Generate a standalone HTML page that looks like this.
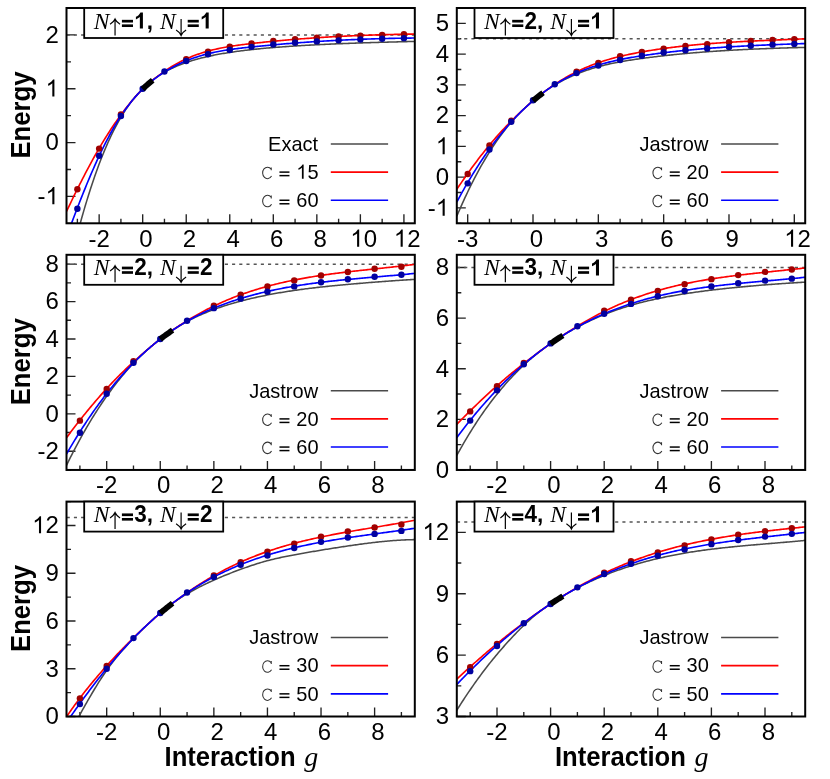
<!DOCTYPE html>
<html><head><meta charset="utf-8"><title>Energy vs interaction</title>
<style>html,body{margin:0;padding:0;background:#fff;}body{width:830px;height:779px;overflow:hidden;font-family:"Liberation Sans",sans-serif;}svg{display:block;will-change:transform;opacity:0.9999;}</style>
</head><body>
<svg width="830" height="779" viewBox="0 0 830 779" font-family="'Liberation Sans', sans-serif">
<rect width="830" height="779" fill="#fff"/>
<g>
<clipPath id="c0"><rect x="66.5" y="8.0" width="348.3" height="215.3"/></clipPath>
<path d="M77.38 223.3v-4.5M99.15 223.3v-9M120.92 223.3v-4.5M142.69 223.3v-9M164.46 223.3v-4.5M186.23 223.3v-9M208 223.3v-4.5M229.77 223.3v-9M251.53 223.3v-4.5M273.3 223.3v-9M295.07 223.3v-4.5M316.84 223.3v-9M338.61 223.3v-4.5M360.38 223.3v-9M382.15 223.3v-4.5M403.92 223.3v-9M66.5 223.3h4.5M66.5 196.39h9M66.5 169.48h4.5M66.5 142.56h9M66.5 115.65h4.5M66.5 88.74h9M66.5 61.83h4.5M66.5 34.91h9M66.5 8h4.5" stroke="#222" stroke-width="1.35" fill="none"/>
<path d="M66.7 34.96H414.8" stroke="#555" stroke-width="1.5" stroke-dasharray="3.1 4.09" fill="none"/>
<polyline clip-path="url(#c0)" points="66.5,278.38 67.84,272.54 69.19,266.8 70.53,261.16 71.88,255.62 73.22,250.18 74.57,244.84 75.91,239.59 77.26,234.44 78.6,229.39 79.95,224.44 81.29,219.58 82.64,214.82 83.98,210.15 85.33,205.59 86.67,201.11 88.02,196.74 89.36,192.45 90.71,188.27 92.05,184.17 93.4,180.16 94.74,176.25 96.09,172.43 97.43,168.71 98.77,165.06 100.12,161.52 101.46,158.05 102.81,154.68 104.15,151.39 105.5,148.19 106.84,145.07 108.19,142.04 109.53,139.09 110.88,136.22 112.22,133.43 113.57,130.72 114.91,128.09 116.26,125.53 117.6,123.06 118.95,120.65 120.29,118.32 121.64,116.05 122.98,113.86 124.33,111.74 125.67,109.68 127.02,107.69 128.36,105.76 129.71,103.89 131.05,102.08 132.39,100.34 133.74,98.65 135.08,97.01 136.43,95.43 137.77,93.91 139.12,92.43 140.46,91 141.81,89.62 143.15,88.29 144.5,87 145.84,85.75 147.19,84.55 148.53,83.38 149.88,82.26 151.22,81.17 152.57,80.12 153.91,79.11 155.26,78.13 156.6,77.18 157.95,76.26 159.29,75.38 160.64,74.52 161.98,73.69 163.32,72.88 164.67,72.11 166.01,71.36 167.36,70.63 168.7,69.92 170.05,69.24 171.39,68.58 172.74,67.94 174.08,67.32 175.43,66.72 176.77,66.14 178.12,65.57 179.46,65.02 180.81,64.49 182.15,63.98 183.5,63.48 184.84,62.99 186.19,62.52 187.53,62.06 188.88,61.61 190.22,61.18 191.57,60.76 192.91,60.35 194.25,59.95 195.6,59.57 196.94,59.19 198.29,58.82 199.63,58.47 200.98,58.12 202.32,57.78 203.67,57.45 205.01,57.13 206.36,56.82 207.7,56.51 209.05,56.22 210.39,55.93 211.74,55.64 213.08,55.37 214.43,55.1 215.77,54.83 217.12,54.58 218.46,54.33 219.81,54.08 221.15,53.84 222.5,53.61 223.84,53.38 225.18,53.16 226.53,52.94 227.87,52.72 229.22,52.52 230.56,52.31 231.91,52.11 233.25,51.92 234.6,51.72 235.94,51.54 237.29,51.35 238.63,51.17 239.98,51 241.32,50.82 242.67,50.65 244.01,50.49 245.36,50.33 246.7,50.17 248.05,50.01 249.39,49.86 250.74,49.71 252.08,49.56 253.43,49.41 254.77,49.27 256.12,49.13 257.46,49 258.8,48.86 260.15,48.73 261.49,48.6 262.84,48.47 264.18,48.35 265.53,48.22 266.87,48.1 268.22,47.99 269.56,47.87 270.91,47.75 272.25,47.64 273.6,47.53 274.94,47.42 276.29,47.31 277.63,47.21 278.98,47.11 280.32,47 281.67,46.9 283.01,46.8 284.36,46.71 285.7,46.61 287.05,46.52 288.39,46.42 289.73,46.33 291.08,46.24 292.42,46.15 293.77,46.07 295.11,45.98 296.46,45.9 297.8,45.81 299.15,45.73 300.49,45.65 301.84,45.57 303.18,45.49 304.53,45.41 305.87,45.34 307.22,45.26 308.56,45.19 309.91,45.11 311.25,45.04 312.6,44.97 313.94,44.9 315.29,44.83 316.63,44.76 317.98,44.69 319.32,44.63 320.66,44.56 322.01,44.5 323.35,44.43 324.7,44.37 326.04,44.31 327.39,44.25 328.73,44.19 330.08,44.13 331.42,44.07 332.77,44.01 334.11,43.95 335.46,43.89 336.8,43.84 338.15,43.78 339.49,43.73 340.84,43.67 342.18,43.62 343.53,43.56 344.87,43.51 346.22,43.46 347.56,43.41 348.91,43.36 350.25,43.31 351.59,43.26 352.94,43.21 354.28,43.16 355.63,43.11 356.97,43.07 358.32,43.02 359.66,42.97 361.01,42.93 362.35,42.88 363.7,42.84 365.04,42.79 366.39,42.75 367.73,42.71 369.08,42.66 370.42,42.62 371.77,42.58 373.11,42.54 374.46,42.5 375.8,42.46 377.15,42.42 378.49,42.38 379.84,42.34 381.18,42.3 382.53,42.26 383.87,42.22 385.21,42.19 386.56,42.15 387.9,42.11 389.25,42.07 390.59,42.04 391.94,42 393.28,41.97 394.63,41.93 395.97,41.9 397.32,41.86 398.66,41.83 400.01,41.79 401.35,41.76 402.7,41.73 404.04,41.7 405.39,41.66 406.73,41.63 408.08,41.6 409.42,41.57 410.77,41.54 412.11,41.5 413.46,41.47 414.8,41.44" fill="none" stroke="#4a4a4a" stroke-width="1.55" stroke-linejoin="round"/>
<polyline clip-path="url(#c0)" points="66.5,211.5 67.84,208.67 69.19,205.84 70.53,203.04 71.88,200.25 73.22,197.48 74.57,194.73 75.91,192 77.26,189.29 78.6,186.59 79.95,183.92 81.29,181.27 82.64,178.64 83.98,176.03 85.33,173.45 86.67,170.88 88.02,168.34 89.36,165.83 90.71,163.33 92.05,160.87 93.4,158.43 94.74,156.01 96.09,153.62 97.43,151.26 98.77,148.93 100.12,146.63 101.46,144.36 102.81,142.11 104.15,139.9 105.5,137.72 106.84,135.57 108.19,133.46 109.53,131.37 110.88,129.32 112.22,127.29 113.57,125.3 114.91,123.34 116.26,121.4 117.6,119.5 118.95,117.62 120.29,115.77 121.64,113.94 122.98,112.14 124.33,110.36 125.67,108.61 127.02,106.88 128.36,105.18 129.71,103.51 131.05,101.86 132.39,100.25 133.74,98.67 135.08,97.12 136.43,95.61 137.77,94.14 139.12,92.7 140.46,91.31 141.81,89.95 143.15,88.63 144.5,87.35 145.84,86.1 147.19,84.89 148.53,83.71 149.88,82.55 151.22,81.42 152.57,80.32 153.91,79.23 155.26,78.17 156.6,77.12 157.95,76.09 159.29,75.08 160.64,74.08 161.98,73.1 163.32,72.14 164.67,71.2 166.01,70.27 167.36,69.37 168.7,68.49 170.05,67.62 171.39,66.78 172.74,65.96 174.08,65.16 175.43,64.39 176.77,63.63 178.12,62.9 179.46,62.19 180.81,61.5 182.15,60.82 183.5,60.17 184.84,59.54 186.19,58.92 187.53,58.32 188.88,57.74 190.22,57.18 191.57,56.63 192.91,56.1 194.25,55.59 195.6,55.09 196.94,54.6 198.29,54.13 199.63,53.68 200.98,53.23 202.32,52.8 203.67,52.39 205.01,51.99 206.36,51.6 207.7,51.22 209.05,50.85 210.39,50.5 211.74,50.15 213.08,49.82 214.43,49.5 215.77,49.19 217.12,48.89 218.46,48.59 219.81,48.31 221.15,48.04 222.5,47.77 223.84,47.52 225.18,47.27 226.53,47.03 227.87,46.79 229.22,46.57 230.56,46.35 231.91,46.13 233.25,45.93 234.6,45.73 235.94,45.53 237.29,45.34 238.63,45.15 239.98,44.97 241.32,44.8 242.67,44.62 244.01,44.45 245.36,44.29 246.7,44.13 248.05,43.97 249.39,43.81 250.74,43.65 252.08,43.5 253.43,43.35 254.77,43.19 256.12,43.04 257.46,42.9 258.8,42.75 260.15,42.6 261.49,42.46 262.84,42.32 264.18,42.18 265.53,42.04 266.87,41.9 268.22,41.76 269.56,41.63 270.91,41.5 272.25,41.36 273.6,41.23 274.94,41.1 276.29,40.98 277.63,40.85 278.98,40.72 280.32,40.6 281.67,40.48 283.01,40.36 284.36,40.24 285.7,40.12 287.05,40 288.39,39.89 289.73,39.77 291.08,39.66 292.42,39.55 293.77,39.44 295.11,39.33 296.46,39.22 297.8,39.11 299.15,39.01 300.49,38.91 301.84,38.8 303.18,38.7 304.53,38.6 305.87,38.5 307.22,38.41 308.56,38.31 309.91,38.21 311.25,38.12 312.6,38.03 313.94,37.94 315.29,37.85 316.63,37.76 317.98,37.67 319.32,37.58 320.66,37.5 322.01,37.41 323.35,37.33 324.7,37.25 326.04,37.17 327.39,37.09 328.73,37.01 330.08,36.93 331.42,36.85 332.77,36.78 334.11,36.7 335.46,36.63 336.8,36.56 338.15,36.49 339.49,36.42 340.84,36.35 342.18,36.28 343.53,36.22 344.87,36.15 346.22,36.09 347.56,36.02 348.91,35.96 350.25,35.9 351.59,35.84 352.94,35.78 354.28,35.72 355.63,35.67 356.97,35.61 358.32,35.55 359.66,35.5 361.01,35.45 362.35,35.39 363.7,35.34 365.04,35.29 366.39,35.24 367.73,35.2 369.08,35.15 370.42,35.1 371.77,35.06 373.11,35.01 374.46,34.97 375.8,34.92 377.15,34.88 378.49,34.84 379.84,34.8 381.18,34.76 382.53,34.72 383.87,34.68 385.21,34.65 386.56,34.61 387.9,34.58 389.25,34.54 390.59,34.51 391.94,34.48 393.28,34.45 394.63,34.41 395.97,34.38 397.32,34.35 398.66,34.33 400.01,34.3 401.35,34.27 402.7,34.25 404.04,34.22 405.39,34.19 406.73,34.17 408.08,34.15 409.42,34.13 410.77,34.1 412.11,34.08 413.46,34.06 414.8,34.04" fill="none" stroke="#ff0000" stroke-width="1.65" stroke-linejoin="round"/>
<polyline clip-path="url(#c0)" points="66.5,236.95 67.84,233.28 69.19,229.63 70.53,226.01 71.88,222.4 73.22,218.82 74.57,215.26 75.91,211.73 77.26,208.22 78.6,204.75 79.95,201.3 81.29,197.88 82.64,194.5 83.98,191.15 85.33,187.83 86.67,184.55 88.02,181.3 89.36,178.09 90.71,174.92 92.05,171.79 93.4,168.71 94.74,165.66 96.09,162.66 97.43,159.7 98.77,156.79 100.12,153.92 101.46,151.11 102.81,148.34 104.15,145.62 105.5,142.95 106.84,140.33 108.19,137.76 109.53,135.24 110.88,132.76 112.22,130.34 113.57,127.98 114.91,125.66 116.26,123.4 117.6,121.18 118.95,119.03 120.29,116.92 121.64,114.87 122.98,112.87 124.33,110.93 125.67,109.03 127.02,107.19 128.36,105.4 129.71,103.65 131.05,101.95 132.39,100.3 133.74,98.7 135.08,97.13 136.43,95.62 137.77,94.14 139.12,92.7 140.46,91.31 141.81,89.95 143.15,88.63 144.5,87.35 145.84,86.1 147.19,84.89 148.53,83.72 149.88,82.57 151.22,81.46 152.57,80.38 153.91,79.33 155.26,78.3 156.6,77.31 157.95,76.34 159.29,75.4 160.64,74.48 161.98,73.58 163.32,72.71 164.67,71.86 166.01,71.03 167.36,70.22 168.7,69.43 170.05,68.66 171.39,67.91 172.74,67.18 174.08,66.46 175.43,65.77 176.77,65.09 178.12,64.43 179.46,63.79 180.81,63.17 182.15,62.56 183.5,61.97 184.84,61.4 186.19,60.84 187.53,60.3 188.88,59.77 190.22,59.26 191.57,58.76 192.91,58.28 194.25,57.81 195.6,57.36 196.94,56.92 198.29,56.49 199.63,56.08 200.98,55.67 202.32,55.29 203.67,54.91 205.01,54.54 206.36,54.19 207.7,53.85 209.05,53.52 210.39,53.2 211.74,52.89 213.08,52.59 214.43,52.3 215.77,52.02 217.12,51.74 218.46,51.48 219.81,51.23 221.15,50.98 222.5,50.74 223.84,50.51 225.18,50.29 226.53,50.07 227.87,49.86 229.22,49.66 230.56,49.46 231.91,49.27 233.25,49.09 234.6,48.91 235.94,48.73 237.29,48.56 238.63,48.39 239.98,48.23 241.32,48.07 242.67,47.92 244.01,47.77 245.36,47.62 246.7,47.47 248.05,47.33 249.39,47.19 250.74,47.04 252.08,46.91 253.43,46.77 254.77,46.63 256.12,46.49 257.46,46.36 258.8,46.23 260.15,46.09 261.49,45.96 262.84,45.83 264.18,45.7 265.53,45.58 266.87,45.45 268.22,45.32 269.56,45.2 270.91,45.08 272.25,44.95 273.6,44.83 274.94,44.71 276.29,44.59 277.63,44.48 278.98,44.36 280.32,44.24 281.67,44.13 283.01,44.02 284.36,43.9 285.7,43.79 287.05,43.68 288.39,43.57 289.73,43.47 291.08,43.36 292.42,43.26 293.77,43.15 295.11,43.05 296.46,42.95 297.8,42.84 299.15,42.74 300.49,42.65 301.84,42.55 303.18,42.45 304.53,42.36 305.87,42.26 307.22,42.17 308.56,42.08 309.91,41.98 311.25,41.89 312.6,41.8 313.94,41.72 315.29,41.63 316.63,41.54 317.98,41.46 319.32,41.38 320.66,41.29 322.01,41.21 323.35,41.13 324.7,41.05 326.04,40.97 327.39,40.89 328.73,40.82 330.08,40.74 331.42,40.67 332.77,40.6 334.11,40.52 335.46,40.45 336.8,40.38 338.15,40.31 339.49,40.24 340.84,40.18 342.18,40.11 343.53,40.05 344.87,39.98 346.22,39.92 347.56,39.86 348.91,39.8 350.25,39.74 351.59,39.68 352.94,39.62 354.28,39.56 355.63,39.51 356.97,39.45 358.32,39.4 359.66,39.35 361.01,39.29 362.35,39.24 363.7,39.19 365.04,39.14 366.39,39.1 367.73,39.05 369.08,39 370.42,38.96 371.77,38.92 373.11,38.87 374.46,38.83 375.8,38.79 377.15,38.75 378.49,38.71 379.84,38.67 381.18,38.64 382.53,38.6 383.87,38.56 385.21,38.53 386.56,38.5 387.9,38.47 389.25,38.43 390.59,38.4 391.94,38.37 393.28,38.35 394.63,38.32 395.97,38.29 397.32,38.27 398.66,38.24 400.01,38.22 401.35,38.2 402.7,38.17 404.04,38.15 405.39,38.13 406.73,38.11 408.08,38.1 409.42,38.08 410.77,38.06 412.11,38.05 413.46,38.03 414.8,38.02" fill="none" stroke="#0000ff" stroke-width="1.65" stroke-linejoin="round"/>
<g fill="#a00000"><circle cx="77.38" cy="189.18" r="3.2"/><circle cx="99.15" cy="148.61" r="3.2"/><circle cx="120.92" cy="114.34" r="3.2"/><circle cx="186.23" cy="59.17" r="3.2"/><circle cx="208" cy="51.6" r="3.2"/><circle cx="229.77" cy="46.62" r="3.2"/><circle cx="251.53" cy="43.43" r="3.2"/><circle cx="273.3" cy="41.04" r="3.2"/><circle cx="295.07" cy="39.2" r="3.2"/><circle cx="316.84" cy="37.7" r="3.2"/><circle cx="338.61" cy="36.49" r="3.2"/><circle cx="360.38" cy="35.58" r="3.2"/><circle cx="382.15" cy="34.84" r="3.2"/><circle cx="403.92" cy="34.22" r="3.2"/></g>
<g fill="#0000a0"><circle cx="77.38" cy="208.77" r="3.2"/><circle cx="99.15" cy="155.82" r="3.2"/><circle cx="120.92" cy="116.01" r="3.2"/><circle cx="142.69" cy="88.74" r="3.2"/><circle cx="164.46" cy="71.53" r="3.2"/><circle cx="186.23" cy="61.05" r="3.2"/><circle cx="208" cy="54.29" r="3.2"/><circle cx="229.77" cy="49.96" r="3.2"/><circle cx="251.53" cy="46.87" r="3.2"/><circle cx="273.3" cy="44.49" r="3.2"/><circle cx="295.07" cy="42.81" r="3.2"/><circle cx="316.84" cy="41.41" r="3.2"/><circle cx="338.61" cy="40.37" r="3.2"/><circle cx="360.38" cy="39.5" r="3.2"/><circle cx="382.15" cy="38.77" r="3.2"/><circle cx="403.92" cy="38.15" r="3.2"/></g>
<polyline points="142.69,89.08 143.6,88.2 144.51,87.34 145.42,86.49 146.33,85.66 147.24,84.84 148.15,84.05 149.06,83.26 149.97,82.49 150.88,81.74 151.79,81 152.7,80.27" fill="none" stroke="#000" stroke-width="5.8" stroke-linejoin="round"/>
<rect x="66.5" y="8.0" width="348.3" height="215.3" fill="none" stroke="#000" stroke-width="2.0"/>
<rect x="84.2" y="8" width="139" height="30" fill="#fff" stroke="#000" stroke-width="1.8"/>
<text x="93.8" y="28.6" font-family="'Liberation Serif', serif" font-style="italic" font-size="23.5">N</text>
<path d="M115.05 35.4V19M110.05 24.3Q113.85 21.91 115.05 19Q116.25 21.91 120.05 24.3" fill="none" stroke="#000" stroke-width="1.2"/>
<rect x="121.9" y="19.83" width="11.09" height="2.7" fill="#000"/><rect x="121.9" y="24.39" width="11.09" height="2.63" fill="#000"/><path d="M142.91 28.6L139.85 28.6L139.85 17.08Q138.18 18.65 135.9 19.4L135.9 16.63Q137.1 16.23 138.5 15.14Q139.9 14.05 140.43 12.59L142.91 12.59Z" fill="#000"/><text transform="translate(146.65 28.6) scale(1 1.03)" font-size="22.5" font-weight="bold" xml:space="preserve">,</text>
<text x="159.9" y="28.6" font-family="'Liberation Serif', serif" font-style="italic" font-size="23.5">N</text>
<path d="M181.1 19V35.4M176.1 30.1Q179.9 32.48 181.1 35.4Q182.3 32.48 186.1 30.1" fill="none" stroke="#000" stroke-width="1.2"/>
<rect x="187.7" y="19.83" width="11.09" height="2.7" fill="#000"/><rect x="187.7" y="24.39" width="11.09" height="2.63" fill="#000"/><path d="M208.71 28.6L205.65 28.6L205.65 17.08Q203.98 18.65 201.7 19.4L201.7 16.63Q202.9 16.23 204.3 15.14Q205.7 14.05 206.23 12.59L208.71 12.59Z" fill="#000"/>
<path d="M330.8 143.9H388.1" stroke="#4a4a4a" stroke-width="1.55"/>
<text transform="translate(318.1 150.7) scale(1 1.03)" text-anchor="end" font-size="20.0">Exact</text>
<path d="M330.8 172.05H388.1" stroke="#ff0000" stroke-width="1.65"/>
<rect x="279.46" y="171.37" width="10" height="1.48" fill="#000"/><rect x="279.46" y="174.89" width="10" height="1.48" fill="#000"/><path d="M303.64 178.85L301.9 178.85L301.9 167.76Q301.27 168.36 300.25 168.96Q299.23 169.56 298.42 169.86L298.42 168.18Q299.88 167.49 300.97 166.51Q302.06 165.54 302.52 164.62L303.64 164.62Z" fill="#000"/><text transform="translate(307.38 178.85) scale(1 1.03)" font-size="20.0" xml:space="preserve">5</text>
<path d="M271.15 169.15A4.85 5.75 0 1 0 271.55 176.05M271.25 167.4V170.3" fill="none" stroke="#333" stroke-width="1.05"/>
<path d="M330.8 200.2H388.1" stroke="#0000ff" stroke-width="1.65"/>
<rect x="279.46" y="199.52" width="10" height="1.48" fill="#000"/><rect x="279.46" y="203.04" width="10" height="1.48" fill="#000"/><text transform="translate(290.7 207) scale(1 1.03)" font-size="20.0" xml:space="preserve"> 60</text>
<path d="M271.15 197.3A4.85 5.75 0 1 0 271.55 204.2M271.25 195.55V198.45" fill="none" stroke="#333" stroke-width="1.05"/>
<text transform="translate(88.49 246.7) scale(1 1.03)" font-size="24.0" xml:space="preserve">-2</text>
<text transform="translate(139.32 246.7) scale(1 1.03)" font-size="24.0" xml:space="preserve">0</text>
<text transform="translate(182.86 246.7) scale(1 1.03)" font-size="24.0" xml:space="preserve">2</text>
<text transform="translate(226.39 246.7) scale(1 1.03)" font-size="24.0" xml:space="preserve">4</text>
<text transform="translate(269.93 246.7) scale(1 1.03)" font-size="24.0" xml:space="preserve">6</text>
<text transform="translate(313.47 246.7) scale(1 1.03)" font-size="24.0" xml:space="preserve">8</text>
<path d="M359.19 246.7L357.1 246.7L357.1 233.39Q356.34 234.11 355.12 234.83Q353.9 235.55 352.92 235.91L352.92 233.89Q354.67 233.07 355.98 231.9Q357.3 230.72 357.84 229.62L359.19 229.62Z" fill="#000"/><text transform="translate(363.68 246.7) scale(1 1.03)" font-size="24.0" xml:space="preserve">0</text>
<path d="M402.72 246.7L400.64 246.7L400.64 233.39Q399.88 234.11 398.66 234.83Q397.43 235.55 396.46 235.91L396.46 233.89Q398.21 233.07 399.52 231.9Q400.83 230.72 401.38 229.62L402.72 229.62Z" fill="#000"/><text transform="translate(407.22 246.7) scale(1 1.03)" font-size="24.0" xml:space="preserve">2</text>
<text transform="translate(37.56 204.19) scale(1 1.03)" font-size="24.0" xml:space="preserve">-</text><path d="M54.41 204.19L52.32 204.19L52.32 190.88Q51.57 191.6 50.34 192.32Q49.12 193.04 48.14 193.4L48.14 191.38Q49.89 190.56 51.21 189.38Q52.52 188.21 53.06 187.11L54.41 187.11Z" fill="#000"/>
<text transform="translate(45.56 150.36) scale(1 1.03)" font-size="24.0" xml:space="preserve">0</text>
<path d="M54.41 96.54L52.32 96.54L52.32 83.23Q51.57 83.95 50.34 84.67Q49.12 85.39 48.14 85.75L48.14 83.73Q49.89 82.91 51.21 81.73Q52.52 80.56 53.06 79.46L54.41 79.46Z" fill="#000"/>
<text transform="translate(45.56 42.71) scale(1 1.03)" font-size="24.0" xml:space="preserve">2</text>
<text transform="translate(29.6 115.05) rotate(-90) scale(0.93 1)" text-anchor="middle" font-weight="bold" font-size="27.6">Energy</text>
</g>
<g>
<clipPath id="c1"><rect x="456.8" y="8.0" width="348.4" height="215.3"/></clipPath>
<path d="M467.69 223.3v-9M489.46 223.3v-4.5M511.24 223.3v-4.5M533.01 223.3v-9M554.79 223.3v-4.5M576.56 223.3v-4.5M598.34 223.3v-9M620.11 223.3v-4.5M641.89 223.3v-4.5M663.66 223.3v-9M685.44 223.3v-4.5M707.21 223.3v-4.5M728.99 223.3v-9M750.76 223.3v-4.5M772.54 223.3v-4.5M794.31 223.3v-9M456.8 223.3h4.5M456.8 207.92h9M456.8 192.54h4.5M456.8 177.16h9M456.8 161.79h4.5M456.8 146.41h9M456.8 131.03h4.5M456.8 115.65h9M456.8 100.27h4.5M456.8 84.89h9M456.8 69.51h4.5M456.8 54.14h9M456.8 38.76h4.5M456.8 23.38h9M456.8 8h4.5" stroke="#222" stroke-width="1.35" fill="none"/>
<path d="M457 38.81H805.2" stroke="#555" stroke-width="1.5" stroke-dasharray="3.1 4.09" fill="none"/>
<polyline clip-path="url(#c1)" points="456.8,216.23 458.15,213.06 459.49,209.94 460.84,206.86 462.18,203.84 463.53,200.86 464.87,197.93 466.22,195.05 467.56,192.21 468.91,189.41 470.25,186.67 471.6,183.96 472.94,181.3 474.29,178.68 475.63,176.11 476.98,173.58 478.32,171.09 479.67,168.64 481.01,166.23 482.36,163.87 483.7,161.54 485.05,159.26 486.39,157.01 487.74,154.8 489.08,152.63 490.43,150.5 491.77,148.4 493.12,146.34 494.46,144.32 495.81,142.33 497.16,140.38 498.5,138.47 499.85,136.59 501.19,134.75 502.54,132.94 503.88,131.17 505.23,129.43 506.57,127.73 507.92,126.07 509.26,124.44 510.61,122.85 511.95,121.29 513.3,119.77 514.64,118.29 515.99,116.84 517.33,115.42 518.68,114.04 520.02,112.68 521.37,111.35 522.71,110.05 524.06,108.77 525.4,107.51 526.75,106.28 528.09,105.06 529.44,103.86 530.78,102.68 532.13,101.52 533.47,100.37 534.82,99.23 536.17,98.12 537.51,97.02 538.86,95.95 540.2,94.89 541.55,93.85 542.89,92.84 544.24,91.85 545.58,90.88 546.93,89.94 548.27,89.02 549.62,88.12 550.96,87.25 552.31,86.4 553.65,85.58 555,84.77 556.34,83.99 557.69,83.22 559.03,82.47 560.38,81.74 561.72,81.03 563.07,80.33 564.41,79.64 565.76,78.98 567.1,78.32 568.45,77.68 569.79,77.06 571.14,76.45 572.48,75.85 573.83,75.27 575.18,74.69 576.52,74.14 577.87,73.59 579.21,73.06 580.56,72.54 581.9,72.03 583.25,71.53 584.59,71.05 585.94,70.58 587.28,70.11 588.63,69.66 589.97,69.23 591.32,68.8 592.66,68.38 594.01,67.97 595.35,67.58 596.7,67.19 598.04,66.82 599.39,66.45 600.73,66.09 602.08,65.74 603.42,65.4 604.77,65.07 606.11,64.75 607.46,64.43 608.8,64.13 610.15,63.83 611.49,63.54 612.84,63.25 614.19,62.98 615.53,62.71 616.88,62.44 618.22,62.19 619.57,61.93 620.91,61.69 622.26,61.45 623.6,61.21 624.95,60.99 626.29,60.76 627.64,60.54 628.98,60.33 630.33,60.12 631.67,59.91 633.02,59.71 634.36,59.51 635.71,59.31 637.05,59.12 638.4,58.93 639.74,58.74 641.09,58.56 642.43,58.38 643.78,58.2 645.12,58.02 646.47,57.84 647.81,57.67 649.16,57.49 650.51,57.32 651.85,57.16 653.2,56.99 654.54,56.82 655.89,56.66 657.23,56.5 658.58,56.34 659.92,56.19 661.27,56.03 662.61,55.88 663.96,55.73 665.3,55.58 666.65,55.43 667.99,55.29 669.34,55.14 670.68,55 672.03,54.86 673.37,54.72 674.72,54.58 676.06,54.45 677.41,54.32 678.75,54.18 680.1,54.05 681.44,53.93 682.79,53.8 684.13,53.68 685.48,53.55 686.82,53.43 688.17,53.31 689.52,53.19 690.86,53.07 692.21,52.96 693.55,52.85 694.9,52.73 696.24,52.62 697.59,52.51 698.93,52.41 700.28,52.3 701.62,52.19 702.97,52.09 704.31,51.99 705.66,51.89 707,51.79 708.35,51.69 709.69,51.6 711.04,51.5 712.38,51.41 713.73,51.31 715.07,51.22 716.42,51.13 717.76,51.05 719.11,50.96 720.45,50.87 721.8,50.79 723.14,50.7 724.49,50.62 725.83,50.54 727.18,50.46 728.53,50.38 729.87,50.31 731.22,50.23 732.56,50.15 733.91,50.08 735.25,50.01 736.6,49.94 737.94,49.87 739.29,49.8 740.63,49.73 741.98,49.66 743.32,49.59 744.67,49.53 746.01,49.46 747.36,49.4 748.7,49.34 750.05,49.28 751.39,49.22 752.74,49.16 754.08,49.1 755.43,49.04 756.77,48.98 758.12,48.93 759.46,48.87 760.81,48.82 762.15,48.76 763.5,48.71 764.84,48.66 766.19,48.61 767.54,48.56 768.88,48.51 770.23,48.46 771.57,48.41 772.92,48.36 774.26,48.31 775.61,48.27 776.95,48.22 778.3,48.18 779.64,48.13 780.99,48.09 782.33,48.05 783.68,48.01 785.02,47.96 786.37,47.92 787.71,47.88 789.06,47.84 790.4,47.8 791.75,47.76 793.09,47.73 794.44,47.69 795.78,47.65 797.13,47.61 798.47,47.58 799.82,47.54 801.16,47.5 802.51,47.47 803.85,47.43 805.2,47.4" fill="none" stroke="#4a4a4a" stroke-width="1.55" stroke-linejoin="round"/>
<polyline clip-path="url(#c1)" points="456.8,189.32 458.15,187.31 459.49,185.32 460.84,183.34 462.18,181.38 463.53,179.44 464.87,177.51 466.22,175.6 467.56,173.7 468.91,171.82 470.25,169.96 471.6,168.11 472.94,166.28 474.29,164.46 475.63,162.66 476.98,160.88 478.32,159.11 479.67,157.36 481.01,155.62 482.36,153.9 483.7,152.2 485.05,150.51 486.39,148.85 487.74,147.19 489.08,145.56 490.43,143.94 491.77,142.34 493.12,140.75 494.46,139.19 495.81,137.64 497.16,136.11 498.5,134.59 499.85,133.1 501.19,131.62 502.54,130.16 503.88,128.72 505.23,127.3 506.57,125.89 507.92,124.49 509.26,123.11 510.61,121.75 511.95,120.4 513.3,119.06 514.64,117.73 515.99,116.41 517.33,115.11 518.68,113.81 520.02,112.53 521.37,111.25 522.71,109.99 524.06,108.74 525.4,107.5 526.75,106.27 528.09,105.06 529.44,103.86 530.78,102.68 532.13,101.52 533.47,100.37 534.82,99.24 536.17,98.12 537.51,97.02 538.86,95.95 540.2,94.88 541.55,93.84 542.89,92.81 544.24,91.8 545.58,90.8 546.93,89.82 548.27,88.85 549.62,87.9 550.96,86.96 552.31,86.03 553.65,85.12 555,84.22 556.34,83.34 557.69,82.47 559.03,81.62 560.38,80.78 561.72,79.95 563.07,79.14 564.41,78.35 565.76,77.57 567.1,76.8 568.45,76.05 569.79,75.32 571.14,74.59 572.48,73.89 573.83,73.19 575.18,72.51 576.52,71.85 577.87,71.19 579.21,70.55 580.56,69.92 581.9,69.31 583.25,68.71 584.59,68.12 585.94,67.54 587.28,66.97 588.63,66.42 589.97,65.88 591.32,65.35 592.66,64.83 594.01,64.32 595.35,63.82 596.7,63.34 598.04,62.86 599.39,62.4 600.73,61.94 602.08,61.5 603.42,61.06 604.77,60.64 606.11,60.22 607.46,59.82 608.8,59.42 610.15,59.03 611.49,58.65 612.84,58.28 614.19,57.92 615.53,57.57 616.88,57.22 618.22,56.88 619.57,56.55 620.91,56.22 622.26,55.91 623.6,55.6 624.95,55.29 626.29,54.99 627.64,54.7 628.98,54.42 630.33,54.14 631.67,53.86 633.02,53.59 634.36,53.33 635.71,53.07 637.05,52.81 638.4,52.56 639.74,52.31 641.09,52.07 642.43,51.83 643.78,51.59 645.12,51.36 646.47,51.13 647.81,50.91 649.16,50.68 650.51,50.46 651.85,50.25 653.2,50.04 654.54,49.83 655.89,49.62 657.23,49.42 658.58,49.22 659.92,49.02 661.27,48.83 662.61,48.64 663.96,48.45 665.3,48.27 666.65,48.09 667.99,47.91 669.34,47.73 670.68,47.56 672.03,47.39 673.37,47.22 674.72,47.06 676.06,46.9 677.41,46.74 678.75,46.58 680.1,46.43 681.44,46.28 682.79,46.13 684.13,45.98 685.48,45.84 686.82,45.7 688.17,45.56 689.52,45.42 690.86,45.29 692.21,45.16 693.55,45.03 694.9,44.9 696.24,44.78 697.59,44.65 698.93,44.53 700.28,44.41 701.62,44.3 702.97,44.18 704.31,44.07 705.66,43.96 707,43.85 708.35,43.74 709.69,43.64 711.04,43.54 712.38,43.43 713.73,43.33 715.07,43.24 716.42,43.14 717.76,43.05 719.11,42.95 720.45,42.86 721.8,42.77 723.14,42.68 724.49,42.6 725.83,42.51 727.18,42.43 728.53,42.34 729.87,42.26 731.22,42.18 732.56,42.1 733.91,42.03 735.25,41.95 736.6,41.87 737.94,41.8 739.29,41.73 740.63,41.65 741.98,41.58 743.32,41.51 744.67,41.44 746.01,41.38 747.36,41.31 748.7,41.24 750.05,41.18 751.39,41.11 752.74,41.05 754.08,40.98 755.43,40.92 756.77,40.86 758.12,40.8 759.46,40.74 760.81,40.68 762.15,40.62 763.5,40.56 764.84,40.5 766.19,40.44 767.54,40.38 768.88,40.32 770.23,40.27 771.57,40.21 772.92,40.15 774.26,40.1 775.61,40.04 776.95,39.98 778.3,39.93 779.64,39.87 780.99,39.81 782.33,39.76 783.68,39.7 785.02,39.65 786.37,39.59 787.71,39.53 789.06,39.48 790.4,39.42 791.75,39.36 793.09,39.3 794.44,39.25 795.78,39.19 797.13,39.13 798.47,39.07 799.82,39.01 801.16,38.95 802.51,38.89 803.85,38.83 805.2,38.77" fill="none" stroke="#ff0000" stroke-width="1.65" stroke-linejoin="round"/>
<polyline clip-path="url(#c1)" points="456.8,202 458.15,199.5 459.49,197.03 460.84,194.59 462.18,192.18 463.53,189.8 464.87,187.45 466.22,185.12 467.56,182.82 468.91,180.54 470.25,178.3 471.6,176.08 472.94,173.88 474.29,171.72 475.63,169.58 476.98,167.46 478.32,165.38 479.67,163.31 481.01,161.28 482.36,159.27 483.7,157.28 485.05,155.32 486.39,153.39 487.74,151.48 489.08,149.6 490.43,147.74 491.77,145.9 493.12,144.09 494.46,142.3 495.81,140.54 497.16,138.8 498.5,137.09 499.85,135.4 501.19,133.73 502.54,132.09 503.88,130.47 505.23,128.87 506.57,127.29 507.92,125.74 509.26,124.21 510.61,122.7 511.95,121.22 513.3,119.76 514.64,118.32 515.99,116.9 517.33,115.5 518.68,114.12 520.02,112.77 521.37,111.44 522.71,110.12 524.06,108.83 525.4,107.56 526.75,106.31 528.09,105.08 529.44,103.87 530.78,102.68 532.13,101.52 533.47,100.37 534.82,99.24 536.17,98.13 537.51,97.04 538.86,95.97 540.2,94.91 541.55,93.88 542.89,92.87 544.24,91.87 545.58,90.89 546.93,89.93 548.27,88.99 549.62,88.07 550.96,87.16 552.31,86.28 553.65,85.41 555,84.55 556.34,83.72 557.69,82.9 559.03,82.1 560.38,81.31 561.72,80.55 563.07,79.79 564.41,79.06 565.76,78.34 567.1,77.63 568.45,76.94 569.79,76.26 571.14,75.6 572.48,74.96 573.83,74.33 575.18,73.71 576.52,73.1 577.87,72.51 579.21,71.94 580.56,71.37 581.9,70.82 583.25,70.28 584.59,69.76 585.94,69.24 587.28,68.74 588.63,68.25 589.97,67.77 591.32,67.31 592.66,66.85 594.01,66.41 595.35,65.97 596.7,65.55 598.04,65.13 599.39,64.73 600.73,64.33 602.08,63.95 603.42,63.57 604.77,63.21 606.11,62.85 607.46,62.5 608.8,62.16 610.15,61.83 611.49,61.5 612.84,61.19 614.19,60.88 615.53,60.58 616.88,60.28 618.22,59.99 619.57,59.71 620.91,59.44 622.26,59.17 623.6,58.9 624.95,58.64 626.29,58.39 627.64,58.14 628.98,57.9 630.33,57.66 631.67,57.43 633.02,57.2 634.36,56.98 635.71,56.76 637.05,56.54 638.4,56.33 639.74,56.11 641.09,55.91 642.43,55.7 643.78,55.5 645.12,55.3 646.47,55.1 647.81,54.9 649.16,54.71 650.51,54.52 651.85,54.33 653.2,54.15 654.54,53.96 655.89,53.78 657.23,53.61 658.58,53.43 659.92,53.25 661.27,53.08 662.61,52.91 663.96,52.75 665.3,52.58 666.65,52.42 667.99,52.26 669.34,52.1 670.68,51.94 672.03,51.79 673.37,51.64 674.72,51.49 676.06,51.34 677.41,51.19 678.75,51.05 680.1,50.91 681.44,50.77 682.79,50.63 684.13,50.49 685.48,50.36 686.82,50.22 688.17,50.09 689.52,49.97 690.86,49.84 692.21,49.71 693.55,49.59 694.9,49.47 696.24,49.35 697.59,49.23 698.93,49.11 700.28,49 701.62,48.89 702.97,48.77 704.31,48.66 705.66,48.56 707,48.45 708.35,48.34 709.69,48.24 711.04,48.14 712.38,48.04 713.73,47.94 715.07,47.84 716.42,47.74 717.76,47.65 719.11,47.56 720.45,47.46 721.8,47.37 723.14,47.28 724.49,47.19 725.83,47.11 727.18,47.02 728.53,46.94 729.87,46.85 731.22,46.77 732.56,46.69 733.91,46.61 735.25,46.53 736.6,46.46 737.94,46.38 739.29,46.31 740.63,46.23 741.98,46.16 743.32,46.09 744.67,46.02 746.01,45.95 747.36,45.88 748.7,45.81 750.05,45.74 751.39,45.67 752.74,45.61 754.08,45.54 755.43,45.48 756.77,45.42 758.12,45.36 759.46,45.29 760.81,45.23 762.15,45.17 763.5,45.11 764.84,45.06 766.19,45 767.54,44.94 768.88,44.88 770.23,44.83 771.57,44.77 772.92,44.72 774.26,44.66 775.61,44.61 776.95,44.56 778.3,44.51 779.64,44.45 780.99,44.4 782.33,44.35 783.68,44.3 785.02,44.25 786.37,44.2 787.71,44.15 789.06,44.1 790.4,44.05 791.75,44 793.09,43.95 794.44,43.9 795.78,43.86 797.13,43.81 798.47,43.76 799.82,43.71 801.16,43.66 802.51,43.62 803.85,43.57 805.2,43.52" fill="none" stroke="#0000ff" stroke-width="1.65" stroke-linejoin="round"/>
<g fill="#a00000"><circle cx="467.69" cy="173.98" r="3.2"/><circle cx="489.46" cy="145.55" r="3.2"/><circle cx="511.24" cy="120.72" r="3.2"/><circle cx="576.56" cy="71.76" r="3.2"/><circle cx="598.34" cy="62.87" r="3.2"/><circle cx="620.11" cy="56.32" r="3.2"/><circle cx="641.89" cy="51.86" r="3.2"/><circle cx="663.66" cy="48.6" r="3.2"/><circle cx="685.44" cy="45.99" r="3.2"/><circle cx="707.21" cy="44.14" r="3.2"/><circle cx="728.99" cy="42.29" r="3.2"/><circle cx="750.76" cy="40.91" r="3.2"/><circle cx="772.54" cy="39.93" r="3.2"/><circle cx="794.31" cy="39.22" r="3.2"/></g>
<g fill="#0000a0"><circle cx="467.69" cy="183.35" r="3.2"/><circle cx="489.46" cy="149.51" r="3.2"/><circle cx="511.24" cy="121.8" r="3.2"/><circle cx="533.01" cy="100.27" r="3.2"/><circle cx="554.79" cy="84.31" r="3.2"/><circle cx="576.56" cy="73.11" r="3.2"/><circle cx="598.34" cy="65.58" r="3.2"/><circle cx="620.11" cy="59.98" r="3.2"/><circle cx="641.89" cy="55.74" r="3.2"/><circle cx="663.66" cy="52.44" r="3.2"/><circle cx="685.44" cy="50.2" r="3.2"/><circle cx="707.21" cy="48.54" r="3.2"/><circle cx="728.99" cy="46.91" r="3.2"/><circle cx="750.76" cy="45.8" r="3.2"/><circle cx="772.54" cy="44.66" r="3.2"/><circle cx="794.31" cy="43.89" r="3.2"/></g>
<polyline points="533.01,100.76 533.92,99.99 534.83,99.23 535.74,98.47 536.65,97.73 537.57,96.99 538.48,96.27 539.39,95.55 540.3,94.84 541.21,94.14 542.12,93.45 543.03,92.76" fill="none" stroke="#000" stroke-width="5.8" stroke-linejoin="round"/>
<rect x="456.8" y="8.0" width="348.4" height="215.3" fill="none" stroke="#000" stroke-width="2.0"/>
<rect x="474.5" y="8" width="139" height="30" fill="#fff" stroke="#000" stroke-width="1.8"/>
<text x="484.1" y="28.6" font-family="'Liberation Serif', serif" font-style="italic" font-size="23.5">N</text>
<path d="M505.35 35.4V19M500.35 24.3Q504.15 21.91 505.35 19Q506.55 21.91 510.35 24.3" fill="none" stroke="#000" stroke-width="1.2"/>
<rect x="512.2" y="19.83" width="11.09" height="2.7" fill="#000"/><rect x="512.2" y="24.39" width="11.09" height="2.63" fill="#000"/><text transform="translate(524.44 28.6) scale(1 1.03)" font-size="22.5" font-weight="bold" xml:space="preserve">2,</text>
<text x="550.2" y="28.6" font-family="'Liberation Serif', serif" font-style="italic" font-size="23.5">N</text>
<path d="M571.4 19V35.4M566.4 30.1Q570.2 32.48 571.4 35.4Q572.6 32.48 576.4 30.1" fill="none" stroke="#000" stroke-width="1.2"/>
<rect x="578" y="19.83" width="11.09" height="2.7" fill="#000"/><rect x="578" y="24.39" width="11.09" height="2.63" fill="#000"/><path d="M599.01 28.6L595.95 28.6L595.95 17.08Q594.28 18.65 592 19.4L592 16.63Q593.2 16.23 594.6 15.14Q596 14.05 596.53 12.59L599.01 12.59Z" fill="#000"/>
<path d="M721.1 143.9H778.4" stroke="#4a4a4a" stroke-width="1.55"/>
<text transform="translate(708.4 150.7) scale(1 1.03)" text-anchor="end" font-size="20.0">Jastrow</text>
<path d="M721.1 172.05H778.4" stroke="#ff0000" stroke-width="1.65"/>
<rect x="669.76" y="171.37" width="10" height="1.48" fill="#000"/><rect x="669.76" y="174.89" width="10" height="1.48" fill="#000"/><text transform="translate(681 178.85) scale(1 1.03)" font-size="20.0" xml:space="preserve"> 20</text>
<path d="M661.45 169.15A4.85 5.75 0 1 0 661.85 176.05M661.55 167.4V170.3" fill="none" stroke="#333" stroke-width="1.05"/>
<path d="M721.1 200.2H778.4" stroke="#0000ff" stroke-width="1.65"/>
<rect x="669.76" y="199.52" width="10" height="1.48" fill="#000"/><rect x="669.76" y="203.04" width="10" height="1.48" fill="#000"/><text transform="translate(681 207) scale(1 1.03)" font-size="20.0" xml:space="preserve"> 60</text>
<path d="M661.45 197.3A4.85 5.75 0 1 0 661.85 204.2M661.55 195.55V198.45" fill="none" stroke="#333" stroke-width="1.05"/>
<text transform="translate(457.02 246.7) scale(1 1.03)" font-size="24.0" xml:space="preserve">-3</text>
<text transform="translate(529.64 246.7) scale(1 1.03)" font-size="24.0" xml:space="preserve">0</text>
<text transform="translate(594.97 246.7) scale(1 1.03)" font-size="24.0" xml:space="preserve">3</text>
<text transform="translate(660.29 246.7) scale(1 1.03)" font-size="24.0" xml:space="preserve">6</text>
<text transform="translate(725.62 246.7) scale(1 1.03)" font-size="24.0" xml:space="preserve">9</text>
<path d="M793.12 246.7L791.03 246.7L791.03 233.39Q790.28 234.11 789.05 234.83Q787.83 235.55 786.86 235.91L786.86 233.89Q788.61 233.07 789.92 231.9Q791.23 230.72 791.77 229.62L793.12 229.62Z" fill="#000"/><text transform="translate(797.61 246.7) scale(1 1.03)" font-size="24.0" xml:space="preserve">2</text>
<text transform="translate(427.86 215.72) scale(1 1.03)" font-size="24.0" xml:space="preserve">-</text><path d="M444.71 215.72L442.62 215.72L442.62 202.41Q441.87 203.13 440.64 203.85Q439.42 204.57 438.44 204.93L438.44 202.91Q440.19 202.09 441.51 200.92Q442.82 199.75 443.36 198.64L444.71 198.64Z" fill="#000"/>
<text transform="translate(435.86 184.96) scale(1 1.03)" font-size="24.0" xml:space="preserve">0</text>
<path d="M444.71 154.21L442.62 154.21L442.62 140.9Q441.87 141.62 440.64 142.34Q439.42 143.06 438.44 143.42L438.44 141.4Q440.19 140.58 441.51 139.4Q442.82 138.23 443.36 137.13L444.71 137.13Z" fill="#000"/>
<text transform="translate(435.86 123.45) scale(1 1.03)" font-size="24.0" xml:space="preserve">2</text>
<text transform="translate(435.86 92.69) scale(1 1.03)" font-size="24.0" xml:space="preserve">3</text>
<text transform="translate(435.86 61.94) scale(1 1.03)" font-size="24.0" xml:space="preserve">4</text>
<text transform="translate(435.86 31.18) scale(1 1.03)" font-size="24.0" xml:space="preserve">5</text>
</g>
<g>
<clipPath id="c2"><rect x="66.5" y="254.8" width="348.3" height="215.15"/></clipPath>
<path d="M79.9 469.95v-4.5M106.69 469.95v-9M133.48 469.95v-4.5M160.27 469.95v-9M187.07 469.95v-4.5M213.86 469.95v-9M240.65 469.95v-4.5M267.44 469.95v-9M294.23 469.95v-4.5M321.03 469.95v-9M347.82 469.95v-4.5M374.61 469.95v-9M401.4 469.95v-4.5M66.5 469.95h4.5M66.5 451.24h9M66.5 432.53h4.5M66.5 413.82h9M66.5 395.12h4.5M66.5 376.41h9M66.5 357.7h4.5M66.5 338.99h9M66.5 320.28h4.5M66.5 301.57h9M66.5 282.86h4.5M66.5 264.15h9" stroke="#222" stroke-width="1.35" fill="none"/>
<path d="M66.7 264.2H414.8" stroke="#555" stroke-width="1.5" stroke-dasharray="3.1 4.09" fill="none"/>
<polyline clip-path="url(#c2)" points="66.5,465.36 67.84,462.62 69.19,459.9 70.53,457.22 71.88,454.57 73.22,451.96 74.57,449.37 75.91,446.81 77.26,444.29 78.6,441.79 79.95,439.33 81.29,436.89 82.64,434.49 83.98,432.11 85.33,429.76 86.67,427.44 88.02,425.16 89.36,422.89 90.71,420.66 92.05,418.46 93.4,416.28 94.74,414.13 96.09,412.01 97.43,409.92 98.77,407.85 100.12,405.81 101.46,403.8 102.81,401.81 104.15,399.85 105.5,397.92 106.84,396.01 108.19,394.12 109.53,392.26 110.88,390.43 112.22,388.62 113.57,386.83 114.91,385.07 116.26,383.33 117.6,381.62 118.95,379.93 120.29,378.27 121.64,376.63 122.98,375.01 124.33,373.41 125.67,371.84 127.02,370.3 128.36,368.77 129.71,367.28 131.05,365.8 132.39,364.35 133.74,362.93 135.08,361.52 136.43,360.15 137.77,358.79 139.12,357.46 140.46,356.15 141.81,354.86 143.15,353.6 144.5,352.35 145.84,351.13 147.19,349.93 148.53,348.74 149.88,347.58 151.22,346.43 152.57,345.3 153.91,344.18 155.26,343.08 156.6,341.99 157.95,340.92 159.29,339.87 160.64,338.82 161.98,337.8 163.32,336.78 164.67,335.79 166.01,334.8 167.36,333.83 168.7,332.88 170.05,331.94 171.39,331.02 172.74,330.11 174.08,329.22 175.43,328.34 176.77,327.49 178.12,326.65 179.46,325.82 180.81,325.02 182.15,324.23 183.5,323.46 184.84,322.7 186.19,321.96 187.53,321.23 188.88,320.52 190.22,319.82 191.57,319.14 192.91,318.47 194.25,317.82 195.6,317.17 196.94,316.54 198.29,315.92 199.63,315.32 200.98,314.72 202.32,314.13 203.67,313.56 205.01,312.99 206.36,312.44 207.7,311.89 209.05,311.36 210.39,310.83 211.74,310.32 213.08,309.81 214.43,309.31 215.77,308.82 217.12,308.34 218.46,307.87 219.81,307.41 221.15,306.95 222.5,306.51 223.84,306.07 225.18,305.63 226.53,305.21 227.87,304.79 229.22,304.38 230.56,303.98 231.91,303.58 233.25,303.19 234.6,302.81 235.94,302.43 237.29,302.06 238.63,301.69 239.98,301.33 241.32,300.97 242.67,300.62 244.01,300.27 245.36,299.93 246.7,299.6 248.05,299.26 249.39,298.94 250.74,298.62 252.08,298.3 253.43,297.99 254.77,297.68 256.12,297.37 257.46,297.08 258.8,296.78 260.15,296.49 261.49,296.21 262.84,295.92 264.18,295.65 265.53,295.37 266.87,295.1 268.22,294.84 269.56,294.58 270.91,294.32 272.25,294.07 273.6,293.82 274.94,293.57 276.29,293.33 277.63,293.09 278.98,292.86 280.32,292.63 281.67,292.4 283.01,292.18 284.36,291.96 285.7,291.74 287.05,291.53 288.39,291.32 289.73,291.11 291.08,290.9 292.42,290.7 293.77,290.5 295.11,290.31 296.46,290.12 297.8,289.93 299.15,289.74 300.49,289.56 301.84,289.38 303.18,289.2 304.53,289.02 305.87,288.85 307.22,288.68 308.56,288.51 309.91,288.34 311.25,288.18 312.6,288.02 313.94,287.86 315.29,287.7 316.63,287.55 317.98,287.39 319.32,287.24 320.66,287.09 322.01,286.95 323.35,286.8 324.7,286.66 326.04,286.52 327.39,286.38 328.73,286.24 330.08,286.1 331.42,285.96 332.77,285.83 334.11,285.7 335.46,285.57 336.8,285.44 338.15,285.31 339.49,285.18 340.84,285.05 342.18,284.93 343.53,284.81 344.87,284.68 346.22,284.56 347.56,284.44 348.91,284.32 350.25,284.2 351.59,284.08 352.94,283.96 354.28,283.84 355.63,283.73 356.97,283.61 358.32,283.5 359.66,283.38 361.01,283.27 362.35,283.16 363.7,283.04 365.04,282.93 366.39,282.82 367.73,282.71 369.08,282.6 370.42,282.5 371.77,282.39 373.11,282.28 374.46,282.18 375.8,282.07 377.15,281.97 378.49,281.86 379.84,281.76 381.18,281.66 382.53,281.56 383.87,281.46 385.21,281.36 386.56,281.26 387.9,281.16 389.25,281.06 390.59,280.97 391.94,280.87 393.28,280.78 394.63,280.68 395.97,280.59 397.32,280.5 398.66,280.4 400.01,280.31 401.35,280.22 402.7,280.13 404.04,280.04 405.39,279.95 406.73,279.87 408.08,279.78 409.42,279.69 410.77,279.61 412.11,279.52 413.46,279.44 414.8,279.36" fill="none" stroke="#4a4a4a" stroke-width="1.55" stroke-linejoin="round"/>
<polyline clip-path="url(#c2)" points="66.5,437.78 67.84,435.96 69.19,434.15 70.53,432.36 71.88,430.58 73.22,428.81 74.57,427.05 75.91,425.3 77.26,423.57 78.6,421.85 79.95,420.14 81.29,418.44 82.64,416.75 83.98,415.08 85.33,413.42 86.67,411.76 88.02,410.12 89.36,408.5 90.71,406.88 92.05,405.28 93.4,403.69 94.74,402.11 96.09,400.54 97.43,398.98 98.77,397.44 100.12,395.9 101.46,394.38 102.81,392.88 104.15,391.38 105.5,389.9 106.84,388.43 108.19,386.97 109.53,385.53 110.88,384.09 112.22,382.68 113.57,381.27 114.91,379.88 116.26,378.5 117.6,377.13 118.95,375.78 120.29,374.44 121.64,373.11 122.98,371.79 124.33,370.49 125.67,369.2 127.02,367.92 128.36,366.65 129.71,365.39 131.05,364.15 132.39,362.91 133.74,361.68 135.08,360.46 136.43,359.24 137.77,358.04 139.12,356.84 140.46,355.65 141.81,354.46 143.15,353.28 144.5,352.11 145.84,350.95 147.19,349.8 148.53,348.65 149.88,347.52 151.22,346.39 152.57,345.27 153.91,344.17 155.26,343.07 156.6,341.99 157.95,340.92 159.29,339.87 160.64,338.82 161.98,337.8 163.32,336.78 164.67,335.78 166.01,334.79 167.36,333.82 168.7,332.86 170.05,331.91 171.39,330.97 172.74,330.05 174.08,329.13 175.43,328.22 176.77,327.33 178.12,326.44 179.46,325.56 180.81,324.69 182.15,323.82 183.5,322.97 184.84,322.12 186.19,321.29 187.53,320.46 188.88,319.63 190.22,318.82 191.57,318.02 192.91,317.22 194.25,316.43 195.6,315.66 196.94,314.89 198.29,314.13 199.63,313.38 200.98,312.64 202.32,311.91 203.67,311.19 205.01,310.48 206.36,309.78 207.7,309.09 209.05,308.41 210.39,307.74 211.74,307.07 213.08,306.42 214.43,305.77 215.77,305.14 217.12,304.51 218.46,303.89 219.81,303.28 221.15,302.67 222.5,302.08 223.84,301.49 225.18,300.91 226.53,300.34 227.87,299.78 229.22,299.22 230.56,298.67 231.91,298.13 233.25,297.6 234.6,297.07 235.94,296.56 237.29,296.04 238.63,295.54 239.98,295.04 241.32,294.55 242.67,294.07 244.01,293.59 245.36,293.12 246.7,292.66 248.05,292.2 249.39,291.75 250.74,291.31 252.08,290.87 253.43,290.44 254.77,290.02 256.12,289.6 257.46,289.19 258.8,288.78 260.15,288.38 261.49,287.99 262.84,287.6 264.18,287.21 265.53,286.84 266.87,286.47 268.22,286.1 269.56,285.74 270.91,285.39 272.25,285.04 273.6,284.69 274.94,284.35 276.29,284.02 277.63,283.69 278.98,283.37 280.32,283.05 281.67,282.74 283.01,282.43 284.36,282.13 285.7,281.83 287.05,281.53 288.39,281.24 289.73,280.96 291.08,280.67 292.42,280.4 293.77,280.13 295.11,279.86 296.46,279.59 297.8,279.33 299.15,279.08 300.49,278.82 301.84,278.58 303.18,278.33 304.53,278.09 305.87,277.85 307.22,277.62 308.56,277.39 309.91,277.16 311.25,276.94 312.6,276.72 313.94,276.5 315.29,276.29 316.63,276.08 317.98,275.87 319.32,275.66 320.66,275.46 322.01,275.26 323.35,275.07 324.7,274.87 326.04,274.68 327.39,274.49 328.73,274.31 330.08,274.12 331.42,273.94 332.77,273.76 334.11,273.59 335.46,273.41 336.8,273.24 338.15,273.07 339.49,272.9 340.84,272.73 342.18,272.57 343.53,272.41 344.87,272.24 346.22,272.08 347.56,271.92 348.91,271.77 350.25,271.61 351.59,271.46 352.94,271.3 354.28,271.15 355.63,271 356.97,270.85 358.32,270.7 359.66,270.55 361.01,270.4 362.35,270.26 363.7,270.11 365.04,269.96 366.39,269.82 367.73,269.67 369.08,269.53 370.42,269.39 371.77,269.24 373.11,269.1 374.46,268.96 375.8,268.81 377.15,268.67 378.49,268.53 379.84,268.38 381.18,268.24 382.53,268.09 383.87,267.95 385.21,267.8 386.56,267.66 387.9,267.51 389.25,267.36 390.59,267.22 391.94,267.07 393.28,266.92 394.63,266.77 395.97,266.62 397.32,266.47 398.66,266.31 400.01,266.16 401.35,266 402.7,265.84 404.04,265.69 405.39,265.53 406.73,265.36 408.08,265.2 409.42,265.03 410.77,264.87 412.11,264.7 413.46,264.53 414.8,264.36" fill="none" stroke="#ff0000" stroke-width="1.65" stroke-linejoin="round"/>
<polyline clip-path="url(#c2)" points="66.5,454.08 67.84,451.75 69.19,449.44 70.53,447.16 71.88,444.89 73.22,442.65 74.57,440.43 75.91,438.23 77.26,436.05 78.6,433.89 79.95,431.76 81.29,429.64 82.64,427.55 83.98,425.48 85.33,423.43 86.67,421.4 88.02,419.39 89.36,417.4 90.71,415.43 92.05,413.48 93.4,411.56 94.74,409.65 96.09,407.76 97.43,405.9 98.77,404.05 100.12,402.22 101.46,400.41 102.81,398.63 104.15,396.86 105.5,395.11 106.84,393.38 108.19,391.67 109.53,389.97 110.88,388.3 112.22,386.65 113.57,385.01 114.91,383.4 116.26,381.8 117.6,380.22 118.95,378.66 120.29,377.12 121.64,375.59 122.98,374.09 124.33,372.6 125.67,371.13 127.02,369.67 128.36,368.24 129.71,366.82 131.05,365.42 132.39,364.04 133.74,362.67 135.08,361.32 136.43,359.99 137.77,358.68 139.12,357.38 140.46,356.1 141.81,354.84 143.15,353.59 144.5,352.36 145.84,351.14 147.19,349.94 148.53,348.76 149.88,347.59 151.22,346.44 152.57,345.31 153.91,344.19 155.26,343.09 156.6,342 157.95,340.92 159.29,339.87 160.64,338.82 161.98,337.8 163.32,336.79 164.67,335.79 166.01,334.81 167.36,333.84 168.7,332.88 170.05,331.94 171.39,331.02 172.74,330.11 174.08,329.21 175.43,328.32 176.77,327.45 178.12,326.59 179.46,325.75 180.81,324.92 182.15,324.1 183.5,323.29 184.84,322.5 186.19,321.71 187.53,320.94 188.88,320.19 190.22,319.44 191.57,318.71 192.91,317.98 194.25,317.27 195.6,316.57 196.94,315.88 198.29,315.2 199.63,314.54 200.98,313.88 202.32,313.23 203.67,312.6 205.01,311.97 206.36,311.35 207.7,310.75 209.05,310.15 210.39,309.56 211.74,308.99 213.08,308.42 214.43,307.86 215.77,307.31 217.12,306.76 218.46,306.23 219.81,305.71 221.15,305.19 222.5,304.68 223.84,304.18 225.18,303.69 226.53,303.2 227.87,302.72 229.22,302.25 230.56,301.79 231.91,301.33 233.25,300.88 234.6,300.44 235.94,300.01 237.29,299.58 238.63,299.15 239.98,298.74 241.32,298.32 242.67,297.92 244.01,297.52 245.36,297.13 246.7,296.74 248.05,296.35 249.39,295.98 250.74,295.61 252.08,295.24 253.43,294.88 254.77,294.52 256.12,294.17 257.46,293.83 258.8,293.49 260.15,293.15 261.49,292.82 262.84,292.5 264.18,292.18 265.53,291.86 266.87,291.55 268.22,291.25 269.56,290.94 270.91,290.65 272.25,290.36 273.6,290.07 274.94,289.79 276.29,289.51 277.63,289.23 278.98,288.96 280.32,288.7 281.67,288.44 283.01,288.18 284.36,287.93 285.7,287.68 287.05,287.43 288.39,287.19 289.73,286.95 291.08,286.72 292.42,286.49 293.77,286.26 295.11,286.04 296.46,285.82 297.8,285.6 299.15,285.39 300.49,285.18 301.84,284.97 303.18,284.77 304.53,284.57 305.87,284.37 307.22,284.18 308.56,283.99 309.91,283.8 311.25,283.61 312.6,283.43 313.94,283.25 315.29,283.08 316.63,282.9 317.98,282.73 319.32,282.56 320.66,282.39 322.01,282.23 323.35,282.07 324.7,281.91 326.04,281.75 327.39,281.6 328.73,281.44 330.08,281.29 331.42,281.14 332.77,281 334.11,280.85 335.46,280.71 336.8,280.57 338.15,280.43 339.49,280.29 340.84,280.15 342.18,280.02 343.53,279.88 344.87,279.75 346.22,279.62 347.56,279.49 348.91,279.36 350.25,279.24 351.59,279.11 352.94,278.99 354.28,278.86 355.63,278.74 356.97,278.62 358.32,278.5 359.66,278.37 361.01,278.26 362.35,278.14 363.7,278.02 365.04,277.9 366.39,277.78 367.73,277.67 369.08,277.55 370.42,277.43 371.77,277.32 373.11,277.2 374.46,277.08 375.8,276.97 377.15,276.85 378.49,276.74 379.84,276.62 381.18,276.51 382.53,276.39 383.87,276.27 385.21,276.16 386.56,276.04 387.9,275.92 389.25,275.8 390.59,275.69 391.94,275.57 393.28,275.45 394.63,275.33 395.97,275.2 397.32,275.08 398.66,274.96 400.01,274.83 401.35,274.71 402.7,274.58 404.04,274.46 405.39,274.33 406.73,274.2 408.08,274.07 409.42,273.93 410.77,273.8 412.11,273.66 413.46,273.53 414.8,273.39" fill="none" stroke="#0000ff" stroke-width="1.65" stroke-linejoin="round"/>
<g fill="#a00000"><circle cx="79.9" cy="420.67" r="3.2"/><circle cx="106.69" cy="389.03" r="3.2"/><circle cx="133.48" cy="361.31" r="3.2"/><circle cx="213.86" cy="305.69" r="3.2"/><circle cx="240.65" cy="294.74" r="3.2"/><circle cx="267.44" cy="286.46" r="3.2"/><circle cx="294.23" cy="280.39" r="3.2"/><circle cx="321.03" cy="275.44" r="3.2"/><circle cx="347.82" cy="271.96" r="3.2"/><circle cx="374.61" cy="268.74" r="3.2"/><circle cx="401.4" cy="266.68" r="3.2"/></g>
<g fill="#0000a0"><circle cx="79.9" cy="432.72" r="3.2"/><circle cx="106.69" cy="393.69" r="3.2"/><circle cx="133.48" cy="362.75" r="3.2"/><circle cx="160.27" cy="338.99" r="3.2"/><circle cx="187.07" cy="320.75" r="3.2"/><circle cx="213.86" cy="308.16" r="3.2"/><circle cx="240.65" cy="298.67" r="3.2"/><circle cx="267.44" cy="291.75" r="3.2"/><circle cx="294.23" cy="286.42" r="3.2"/><circle cx="321.03" cy="282.3" r="3.2"/><circle cx="347.82" cy="279.21" r="3.2"/><circle cx="374.61" cy="276.78" r="3.2"/><circle cx="401.4" cy="274.82" r="3.2"/></g>
<polyline points="160.27,339.1 161.39,338.24 162.51,337.39 163.63,336.55 164.75,335.73 165.88,334.91 167,334.1 168.12,333.3 169.24,332.51 170.36,331.73 171.48,330.96 172.6,330.2" fill="none" stroke="#000" stroke-width="5.8" stroke-linejoin="round"/>
<rect x="66.5" y="254.8" width="348.3" height="215.15" fill="none" stroke="#000" stroke-width="2.0"/>
<rect x="84.2" y="254.8" width="139" height="30" fill="#fff" stroke="#000" stroke-width="1.8"/>
<text x="93.8" y="275.4" font-family="'Liberation Serif', serif" font-style="italic" font-size="23.5">N</text>
<path d="M115.05 282.2V265.8M110.05 271.1Q113.85 268.72 115.05 265.8Q116.25 268.72 120.05 271.1" fill="none" stroke="#000" stroke-width="1.2"/>
<rect x="121.9" y="266.63" width="11.09" height="2.7" fill="#000"/><rect x="121.9" y="271.19" width="11.09" height="2.63" fill="#000"/><text transform="translate(134.14 275.4) scale(1 1.03)" font-size="22.5" font-weight="bold" xml:space="preserve">2,</text>
<text x="159.9" y="275.4" font-family="'Liberation Serif', serif" font-style="italic" font-size="23.5">N</text>
<path d="M181.1 265.8V282.2M176.1 276.9Q179.9 279.28 181.1 282.2Q182.3 279.28 186.1 276.9" fill="none" stroke="#000" stroke-width="1.2"/>
<rect x="187.7" y="266.63" width="11.09" height="2.7" fill="#000"/><rect x="187.7" y="271.19" width="11.09" height="2.63" fill="#000"/><text transform="translate(199.94 275.4) scale(1 1.03)" font-size="22.5" font-weight="bold" xml:space="preserve">2</text>
<path d="M330.8 390.7H388.1" stroke="#4a4a4a" stroke-width="1.55"/>
<text transform="translate(318.1 397.5) scale(1 1.03)" text-anchor="end" font-size="20.0">Jastrow</text>
<path d="M330.8 418.85H388.1" stroke="#ff0000" stroke-width="1.65"/>
<rect x="279.46" y="418.17" width="10" height="1.48" fill="#000"/><rect x="279.46" y="421.69" width="10" height="1.48" fill="#000"/><text transform="translate(290.7 425.65) scale(1 1.03)" font-size="20.0" xml:space="preserve"> 20</text>
<path d="M271.15 415.95A4.85 5.75 0 1 0 271.55 422.85M271.25 414.2V417.1" fill="none" stroke="#333" stroke-width="1.05"/>
<path d="M330.8 447H388.1" stroke="#0000ff" stroke-width="1.65"/>
<rect x="279.46" y="446.32" width="10" height="1.48" fill="#000"/><rect x="279.46" y="449.84" width="10" height="1.48" fill="#000"/><text transform="translate(290.7 453.8) scale(1 1.03)" font-size="20.0" xml:space="preserve"> 60</text>
<path d="M271.15 444.1A4.85 5.75 0 1 0 271.55 451M271.25 442.35V445.25" fill="none" stroke="#333" stroke-width="1.05"/>
<text transform="translate(96.02 493.35) scale(1 1.03)" font-size="24.0" xml:space="preserve">-2</text>
<text transform="translate(156.9 493.35) scale(1 1.03)" font-size="24.0" xml:space="preserve">0</text>
<text transform="translate(210.49 493.35) scale(1 1.03)" font-size="24.0" xml:space="preserve">2</text>
<text transform="translate(264.07 493.35) scale(1 1.03)" font-size="24.0" xml:space="preserve">4</text>
<text transform="translate(317.65 493.35) scale(1 1.03)" font-size="24.0" xml:space="preserve">6</text>
<text transform="translate(371.24 493.35) scale(1 1.03)" font-size="24.0" xml:space="preserve">8</text>
<text transform="translate(37.56 459.04) scale(1 1.03)" font-size="24.0" xml:space="preserve">-2</text>
<text transform="translate(45.56 421.62) scale(1 1.03)" font-size="24.0" xml:space="preserve">0</text>
<text transform="translate(45.56 384.21) scale(1 1.03)" font-size="24.0" xml:space="preserve">2</text>
<text transform="translate(45.56 346.79) scale(1 1.03)" font-size="24.0" xml:space="preserve">4</text>
<text transform="translate(45.56 309.37) scale(1 1.03)" font-size="24.0" xml:space="preserve">6</text>
<text transform="translate(45.56 271.95) scale(1 1.03)" font-size="24.0" xml:space="preserve">8</text>
<text transform="translate(29.6 361.77) rotate(-90) scale(0.93 1)" text-anchor="middle" font-weight="bold" font-size="27.6">Energy</text>
</g>
<g>
<clipPath id="c3"><rect x="456.8" y="254.8" width="348.4" height="215.15"/></clipPath>
<path d="M470.2 469.95v-4.5M497 469.95v-9M523.8 469.95v-4.5M550.6 469.95v-9M577.4 469.95v-4.5M604.2 469.95v-9M631 469.95v-4.5M657.8 469.95v-9M684.6 469.95v-4.5M711.4 469.95v-9M738.2 469.95v-4.5M765 469.95v-9M791.8 469.95v-4.5M456.8 469.95h9M456.8 444.64h4.5M456.8 419.33h9M456.8 394.01h4.5M456.8 368.7h9M456.8 343.39h4.5M456.8 318.08h9M456.8 292.77h4.5M456.8 267.46h9" stroke="#222" stroke-width="1.35" fill="none"/>
<path d="M457 267.51H805.2" stroke="#555" stroke-width="1.5" stroke-dasharray="3.1 4.09" fill="none"/>
<polyline clip-path="url(#c3)" points="456.8,455.43 458.15,452.98 459.49,450.56 460.84,448.17 462.18,445.8 463.53,443.47 464.87,441.16 466.22,438.89 467.56,436.64 468.91,434.42 470.25,432.23 471.6,430.06 472.94,427.93 474.29,425.82 475.63,423.73 476.98,421.68 478.32,419.65 479.67,417.65 481.01,415.67 482.36,413.72 483.7,411.8 485.05,409.9 486.39,408.03 487.74,406.18 489.08,404.36 490.43,402.56 491.77,400.79 493.12,399.04 494.46,397.32 495.81,395.61 497.16,393.94 498.5,392.28 499.85,390.65 501.19,389.04 502.54,387.46 503.88,385.89 505.23,384.35 506.57,382.82 507.92,381.32 509.26,379.84 510.61,378.38 511.95,376.94 513.3,375.52 514.64,374.12 515.99,372.74 517.33,371.38 518.68,370.03 520.02,368.71 521.37,367.41 522.71,366.13 524.06,364.87 525.4,363.62 526.75,362.4 528.09,361.2 529.44,360.01 530.78,358.85 532.13,357.7 533.47,356.57 534.82,355.46 536.17,354.36 537.51,353.29 538.86,352.22 540.2,351.18 541.55,350.15 542.89,349.13 544.24,348.13 545.58,347.14 546.93,346.16 548.27,345.2 549.62,344.25 550.96,343.31 552.31,342.39 553.65,341.47 555,340.57 556.34,339.68 557.69,338.8 559.03,337.93 560.38,337.07 561.72,336.22 563.07,335.38 564.41,334.55 565.76,333.74 567.1,332.93 568.45,332.14 569.79,331.35 571.14,330.58 572.48,329.82 573.83,329.06 575.18,328.32 576.52,327.59 577.87,326.87 579.21,326.15 580.56,325.45 581.9,324.76 583.25,324.08 584.59,323.4 585.94,322.74 587.28,322.08 588.63,321.44 589.97,320.8 591.32,320.17 592.66,319.55 594.01,318.94 595.35,318.34 596.7,317.75 598.04,317.16 599.39,316.59 600.73,316.02 602.08,315.46 603.42,314.91 604.77,314.36 606.11,313.83 607.46,313.3 608.8,312.78 610.15,312.27 611.49,311.77 612.84,311.27 614.19,310.78 615.53,310.3 616.88,309.83 618.22,309.36 619.57,308.91 620.91,308.46 622.26,308.01 623.6,307.58 624.95,307.15 626.29,306.73 627.64,306.31 628.98,305.9 630.33,305.5 631.67,305.11 633.02,304.72 634.36,304.34 635.71,303.96 637.05,303.59 638.4,303.23 639.74,302.87 641.09,302.52 642.43,302.18 643.78,301.84 645.12,301.5 646.47,301.18 647.81,300.85 649.16,300.54 650.51,300.23 651.85,299.92 653.2,299.62 654.54,299.32 655.89,299.03 657.23,298.74 658.58,298.46 659.92,298.19 661.27,297.91 662.61,297.64 663.96,297.38 665.3,297.12 666.65,296.86 667.99,296.61 669.34,296.37 670.68,296.12 672.03,295.88 673.37,295.64 674.72,295.41 676.06,295.18 677.41,294.96 678.75,294.73 680.1,294.51 681.44,294.3 682.79,294.08 684.13,293.87 685.48,293.66 686.82,293.46 688.17,293.25 689.52,293.05 690.86,292.86 692.21,292.66 693.55,292.47 694.9,292.28 696.24,292.09 697.59,291.9 698.93,291.72 700.28,291.54 701.62,291.36 702.97,291.19 704.31,291.01 705.66,290.84 707,290.67 708.35,290.5 709.69,290.34 711.04,290.17 712.38,290.01 713.73,289.85 715.07,289.69 716.42,289.54 717.76,289.38 719.11,289.23 720.45,289.08 721.8,288.93 723.14,288.78 724.49,288.64 725.83,288.49 727.18,288.35 728.53,288.21 729.87,288.07 731.22,287.93 732.56,287.8 733.91,287.66 735.25,287.53 736.6,287.39 737.94,287.26 739.29,287.13 740.63,287 741.98,286.88 743.32,286.75 744.67,286.62 746.01,286.5 747.36,286.38 748.7,286.25 750.05,286.13 751.39,286.01 752.74,285.9 754.08,285.78 755.43,285.66 756.77,285.55 758.12,285.44 759.46,285.32 760.81,285.21 762.15,285.1 763.5,284.99 764.84,284.88 766.19,284.78 767.54,284.67 768.88,284.57 770.23,284.46 771.57,284.36 772.92,284.26 774.26,284.16 775.61,284.06 776.95,283.96 778.3,283.87 779.64,283.77 780.99,283.68 782.33,283.58 783.68,283.49 785.02,283.4 786.37,283.31 787.71,283.22 789.06,283.13 790.4,283.05 791.75,282.96 793.09,282.88 794.44,282.79 795.78,282.71 797.13,282.63 798.47,282.55 799.82,282.47 801.16,282.39 802.51,282.31 803.85,282.24 805.2,282.16" fill="none" stroke="#4a4a4a" stroke-width="1.55" stroke-linejoin="round"/>
<polyline clip-path="url(#c3)" points="456.8,424.33 458.15,422.95 459.49,421.57 460.84,420.2 462.18,418.84 463.53,417.48 464.87,416.13 466.22,414.79 467.56,413.45 468.91,412.12 470.25,410.79 471.6,409.47 472.94,408.16 474.29,406.85 475.63,405.55 476.98,404.26 478.32,402.97 479.67,401.69 481.01,400.41 482.36,399.14 483.7,397.88 485.05,396.63 486.39,395.38 487.74,394.13 489.08,392.9 490.43,391.67 491.77,390.45 493.12,389.23 494.46,388.02 495.81,386.82 497.16,385.63 498.5,384.44 499.85,383.26 501.19,382.09 502.54,380.93 503.88,379.77 505.23,378.62 506.57,377.48 507.92,376.35 509.26,375.23 510.61,374.11 511.95,373 513.3,371.9 514.64,370.8 515.99,369.71 517.33,368.63 518.68,367.56 520.02,366.49 521.37,365.43 522.71,364.37 524.06,363.32 525.4,362.27 526.75,361.22 528.09,360.19 529.44,359.15 530.78,358.12 532.13,357.09 533.47,356.07 534.82,355.05 536.17,354.04 537.51,353.03 538.86,352.03 540.2,351.03 541.55,350.04 542.89,349.06 544.24,348.08 545.58,347.11 546.93,346.15 548.27,345.2 549.62,344.25 550.96,343.31 552.31,342.38 553.65,341.46 555,340.55 556.34,339.64 557.69,338.75 559.03,337.85 560.38,336.97 561.72,336.09 563.07,335.22 564.41,334.35 565.76,333.48 567.1,332.63 568.45,331.77 569.79,330.92 571.14,330.08 572.48,329.24 573.83,328.41 575.18,327.58 576.52,326.75 577.87,325.93 579.21,325.12 580.56,324.32 581.9,323.52 583.25,322.73 584.59,321.94 585.94,321.16 587.28,320.39 588.63,319.63 589.97,318.88 591.32,318.13 592.66,317.39 594.01,316.67 595.35,315.94 596.7,315.23 598.04,314.53 599.39,313.83 600.73,313.14 602.08,312.46 603.42,311.79 604.77,311.12 606.11,310.46 607.46,309.81 608.8,309.17 610.15,308.53 611.49,307.91 612.84,307.28 614.19,306.67 615.53,306.07 616.88,305.47 618.22,304.87 619.57,304.29 620.91,303.71 622.26,303.14 623.6,302.58 624.95,302.02 626.29,301.48 627.64,300.93 628.98,300.4 630.33,299.87 631.67,299.35 633.02,298.84 634.36,298.33 635.71,297.84 637.05,297.34 638.4,296.86 639.74,296.38 641.09,295.91 642.43,295.44 643.78,294.99 645.12,294.53 646.47,294.09 647.81,293.65 649.16,293.22 650.51,292.79 651.85,292.37 653.2,291.96 654.54,291.55 655.89,291.15 657.23,290.75 658.58,290.36 659.92,289.98 661.27,289.6 662.61,289.23 663.96,288.86 665.3,288.5 666.65,288.14 667.99,287.79 669.34,287.45 670.68,287.11 672.03,286.77 673.37,286.44 674.72,286.12 676.06,285.8 677.41,285.48 678.75,285.17 680.1,284.87 681.44,284.56 682.79,284.27 684.13,283.98 685.48,283.69 686.82,283.41 688.17,283.13 689.52,282.85 690.86,282.59 692.21,282.32 693.55,282.06 694.9,281.8 696.24,281.55 697.59,281.3 698.93,281.05 700.28,280.81 701.62,280.57 702.97,280.34 704.31,280.11 705.66,279.88 707,279.65 708.35,279.43 709.69,279.21 711.04,279 712.38,278.79 713.73,278.58 715.07,278.38 716.42,278.17 717.76,277.97 719.11,277.78 720.45,277.58 721.8,277.39 723.14,277.2 724.49,277.02 725.83,276.83 727.18,276.65 728.53,276.47 729.87,276.3 731.22,276.12 732.56,275.95 733.91,275.78 735.25,275.61 736.6,275.45 737.94,275.28 739.29,275.12 740.63,274.96 741.98,274.8 743.32,274.64 744.67,274.48 746.01,274.33 747.36,274.18 748.7,274.02 750.05,273.87 751.39,273.72 752.74,273.58 754.08,273.43 755.43,273.28 756.77,273.14 758.12,272.99 759.46,272.85 760.81,272.7 762.15,272.56 763.5,272.42 764.84,272.28 766.19,272.14 767.54,272 768.88,271.86 770.23,271.72 771.57,271.58 772.92,271.44 774.26,271.3 775.61,271.16 776.95,271.02 778.3,270.88 779.64,270.74 780.99,270.6 782.33,270.45 783.68,270.31 785.02,270.17 786.37,270.03 787.71,269.89 789.06,269.74 790.4,269.6 791.75,269.45 793.09,269.3 794.44,269.16 795.78,269.01 797.13,268.86 798.47,268.71 799.82,268.56 801.16,268.4 802.51,268.25 803.85,268.09 805.2,267.93" fill="none" stroke="#ff0000" stroke-width="1.65" stroke-linejoin="round"/>
<polyline clip-path="url(#c3)" points="456.8,437.65 458.15,435.84 459.49,434.05 460.84,432.27 462.18,430.5 463.53,428.75 464.87,427.01 466.22,425.29 467.56,423.59 468.91,421.89 470.25,420.21 471.6,418.55 472.94,416.9 474.29,415.27 475.63,413.64 476.98,412.04 478.32,410.44 479.67,408.86 481.01,407.3 482.36,405.75 483.7,404.21 485.05,402.69 486.39,401.17 487.74,399.68 489.08,398.19 490.43,396.72 491.77,395.27 493.12,393.82 494.46,392.39 495.81,390.97 497.16,389.57 498.5,388.18 499.85,386.8 501.19,385.43 502.54,384.08 503.88,382.74 505.23,381.41 506.57,380.1 507.92,378.79 509.26,377.5 510.61,376.23 511.95,374.96 513.3,373.71 514.64,372.47 515.99,371.24 517.33,370.02 518.68,368.82 520.02,367.62 521.37,366.44 522.71,365.27 524.06,364.11 525.4,362.97 526.75,361.83 528.09,360.71 529.44,359.6 530.78,358.5 532.13,357.41 533.47,356.33 534.82,355.27 536.17,354.21 537.51,353.17 538.86,352.13 540.2,351.11 541.55,350.1 542.89,349.1 544.24,348.11 545.58,347.13 546.93,346.16 548.27,345.2 549.62,344.25 550.96,343.31 552.31,342.39 553.65,341.47 555,340.56 556.34,339.66 557.69,338.78 559.03,337.9 560.38,337.03 561.72,336.18 563.07,335.33 564.41,334.49 565.76,333.66 567.1,332.84 568.45,332.03 569.79,331.23 571.14,330.44 572.48,329.66 573.83,328.89 575.18,328.13 576.52,327.37 577.87,326.63 579.21,325.89 580.56,325.17 581.9,324.45 583.25,323.74 584.59,323.04 585.94,322.35 587.28,321.66 588.63,320.99 589.97,320.32 591.32,319.66 592.66,319.01 594.01,318.37 595.35,317.74 596.7,317.11 598.04,316.49 599.39,315.88 600.73,315.28 602.08,314.69 603.42,314.1 604.77,313.52 606.11,312.95 607.46,312.39 608.8,311.83 610.15,311.29 611.49,310.74 612.84,310.21 614.19,309.68 615.53,309.17 616.88,308.65 618.22,308.15 619.57,307.65 620.91,307.16 622.26,306.67 623.6,306.19 624.95,305.72 626.29,305.26 627.64,304.8 628.98,304.35 630.33,303.9 631.67,303.46 633.02,303.03 634.36,302.6 635.71,302.18 637.05,301.77 638.4,301.36 639.74,300.96 641.09,300.56 642.43,300.17 643.78,299.79 645.12,299.41 646.47,299.03 647.81,298.67 649.16,298.3 650.51,297.95 651.85,297.6 653.2,297.25 654.54,296.91 655.89,296.57 657.23,296.24 658.58,295.92 659.92,295.6 661.27,295.28 662.61,294.97 663.96,294.67 665.3,294.37 666.65,294.07 667.99,293.78 669.34,293.49 670.68,293.21 672.03,292.93 673.37,292.66 674.72,292.39 676.06,292.12 677.41,291.86 678.75,291.61 680.1,291.35 681.44,291.11 682.79,290.86 684.13,290.62 685.48,290.38 686.82,290.15 688.17,289.92 689.52,289.7 690.86,289.48 692.21,289.26 693.55,289.04 694.9,288.83 696.24,288.62 697.59,288.42 698.93,288.22 700.28,288.02 701.62,287.83 702.97,287.63 704.31,287.44 705.66,287.26 707,287.08 708.35,286.89 709.69,286.72 711.04,286.54 712.38,286.37 713.73,286.2 715.07,286.03 716.42,285.87 717.76,285.71 719.11,285.55 720.45,285.39 721.8,285.23 723.14,285.08 724.49,284.93 725.83,284.78 727.18,284.63 728.53,284.48 729.87,284.34 731.22,284.2 732.56,284.06 733.91,283.92 735.25,283.78 736.6,283.65 737.94,283.51 739.29,283.38 740.63,283.25 741.98,283.12 743.32,282.99 744.67,282.86 746.01,282.73 747.36,282.61 748.7,282.48 750.05,282.36 751.39,282.23 752.74,282.11 754.08,281.99 755.43,281.87 756.77,281.75 758.12,281.63 759.46,281.51 760.81,281.39 762.15,281.27 763.5,281.15 764.84,281.03 766.19,280.91 767.54,280.8 768.88,280.68 770.23,280.56 771.57,280.44 772.92,280.32 774.26,280.2 775.61,280.09 776.95,279.97 778.3,279.85 779.64,279.73 780.99,279.61 782.33,279.48 783.68,279.36 785.02,279.24 786.37,279.12 787.71,278.99 789.06,278.87 790.4,278.74 791.75,278.61 793.09,278.49 794.44,278.36 795.78,278.22 797.13,278.09 798.47,277.96 799.82,277.82 801.16,277.69 802.51,277.55 803.85,277.41 805.2,277.27" fill="none" stroke="#0000ff" stroke-width="1.65" stroke-linejoin="round"/>
<g fill="#a00000"><circle cx="470.2" cy="411.4" r="3.2"/><circle cx="497" cy="386.24" r="3.2"/><circle cx="523.8" cy="363.03" r="3.2"/><circle cx="604.2" cy="310.66" r="3.2"/><circle cx="631" cy="299.68" r="3.2"/><circle cx="657.8" cy="290.92" r="3.2"/><circle cx="684.6" cy="284.21" r="3.2"/><circle cx="711.4" cy="279.15" r="3.2"/><circle cx="738.2" cy="275.1" r="3.2"/><circle cx="765" cy="271.89" r="3.2"/><circle cx="791.8" cy="269.53" r="3.2"/></g>
<g fill="#0000a0"><circle cx="470.2" cy="420.62" r="3.2"/><circle cx="497" cy="390.37" r="3.2"/><circle cx="523.8" cy="364.3" r="3.2"/><circle cx="550.6" cy="343.39" r="3.2"/><circle cx="577.4" cy="326.18" r="3.2"/><circle cx="604.2" cy="313.7" r="3.2"/><circle cx="631" cy="303.9" r="3.2"/><circle cx="657.8" cy="296.31" r="3.2"/><circle cx="684.6" cy="290.97" r="3.2"/><circle cx="711.4" cy="286.57" r="3.2"/><circle cx="738.2" cy="283.2" r="3.2"/><circle cx="765" cy="280.67" r="3.2"/><circle cx="791.8" cy="278.64" r="3.2"/></g>
<polyline points="550.6,343.56 551.72,342.79 552.84,342.02 553.96,341.26 555.08,340.5 556.2,339.76 557.32,339.02 558.45,338.28 559.57,337.56 560.69,336.84 561.81,336.12 562.93,335.42" fill="none" stroke="#000" stroke-width="5.8" stroke-linejoin="round"/>
<rect x="456.8" y="254.8" width="348.4" height="215.15" fill="none" stroke="#000" stroke-width="2.0"/>
<rect x="474.5" y="254.8" width="139" height="30" fill="#fff" stroke="#000" stroke-width="1.8"/>
<text x="484.1" y="275.4" font-family="'Liberation Serif', serif" font-style="italic" font-size="23.5">N</text>
<path d="M505.35 282.2V265.8M500.35 271.1Q504.15 268.72 505.35 265.8Q506.55 268.72 510.35 271.1" fill="none" stroke="#000" stroke-width="1.2"/>
<rect x="512.2" y="266.63" width="11.09" height="2.7" fill="#000"/><rect x="512.2" y="271.19" width="11.09" height="2.63" fill="#000"/><text transform="translate(524.44 275.4) scale(1 1.03)" font-size="22.5" font-weight="bold" xml:space="preserve">3,</text>
<text x="550.2" y="275.4" font-family="'Liberation Serif', serif" font-style="italic" font-size="23.5">N</text>
<path d="M571.4 265.8V282.2M566.4 276.9Q570.2 279.28 571.4 282.2Q572.6 279.28 576.4 276.9" fill="none" stroke="#000" stroke-width="1.2"/>
<rect x="578" y="266.63" width="11.09" height="2.7" fill="#000"/><rect x="578" y="271.19" width="11.09" height="2.63" fill="#000"/><path d="M599.01 275.4L595.95 275.4L595.95 263.88Q594.28 265.45 592 266.2L592 263.43Q593.2 263.03 594.6 261.94Q596 260.85 596.53 259.39L599.01 259.39Z" fill="#000"/>
<path d="M721.1 390.7H778.4" stroke="#4a4a4a" stroke-width="1.55"/>
<text transform="translate(708.4 397.5) scale(1 1.03)" text-anchor="end" font-size="20.0">Jastrow</text>
<path d="M721.1 418.85H778.4" stroke="#ff0000" stroke-width="1.65"/>
<rect x="669.76" y="418.17" width="10" height="1.48" fill="#000"/><rect x="669.76" y="421.69" width="10" height="1.48" fill="#000"/><text transform="translate(681 425.65) scale(1 1.03)" font-size="20.0" xml:space="preserve"> 20</text>
<path d="M661.45 415.95A4.85 5.75 0 1 0 661.85 422.85M661.55 414.2V417.1" fill="none" stroke="#333" stroke-width="1.05"/>
<path d="M721.1 447H778.4" stroke="#0000ff" stroke-width="1.65"/>
<rect x="669.76" y="446.32" width="10" height="1.48" fill="#000"/><rect x="669.76" y="449.84" width="10" height="1.48" fill="#000"/><text transform="translate(681 453.8) scale(1 1.03)" font-size="20.0" xml:space="preserve"> 60</text>
<path d="M661.45 444.1A4.85 5.75 0 1 0 661.85 451M661.55 442.35V445.25" fill="none" stroke="#333" stroke-width="1.05"/>
<text transform="translate(486.33 493.35) scale(1 1.03)" font-size="24.0" xml:space="preserve">-2</text>
<text transform="translate(547.23 493.35) scale(1 1.03)" font-size="24.0" xml:space="preserve">0</text>
<text transform="translate(600.83 493.35) scale(1 1.03)" font-size="24.0" xml:space="preserve">2</text>
<text transform="translate(654.43 493.35) scale(1 1.03)" font-size="24.0" xml:space="preserve">4</text>
<text transform="translate(708.03 493.35) scale(1 1.03)" font-size="24.0" xml:space="preserve">6</text>
<text transform="translate(761.63 493.35) scale(1 1.03)" font-size="24.0" xml:space="preserve">8</text>
<text transform="translate(435.86 477.75) scale(1 1.03)" font-size="24.0" xml:space="preserve">0</text>
<text transform="translate(435.86 427.13) scale(1 1.03)" font-size="24.0" xml:space="preserve">2</text>
<text transform="translate(435.86 376.5) scale(1 1.03)" font-size="24.0" xml:space="preserve">4</text>
<text transform="translate(435.86 325.88) scale(1 1.03)" font-size="24.0" xml:space="preserve">6</text>
<text transform="translate(435.86 275.26) scale(1 1.03)" font-size="24.0" xml:space="preserve">8</text>
</g>
<g>
<clipPath id="c4"><rect x="66.5" y="501.6" width="348.3" height="214.9"/></clipPath>
<path d="M79.9 716.5v-4.5M106.69 716.5v-9M133.48 716.5v-4.5M160.27 716.5v-9M187.07 716.5v-4.5M213.86 716.5v-9M240.65 716.5v-4.5M267.44 716.5v-9M294.23 716.5v-4.5M321.03 716.5v-9M347.82 716.5v-4.5M374.61 716.5v-9M401.4 716.5v-4.5M66.5 716.5h9M66.5 692.62h4.5M66.5 668.74h9M66.5 644.87h4.5M66.5 620.99h9M66.5 597.11h4.5M66.5 573.23h9M66.5 549.36h4.5M66.5 525.48h9M66.5 501.6h4.5" stroke="#222" stroke-width="1.35" fill="none"/>
<path d="M66.7 517.57H414.8" stroke="#555" stroke-width="1.5" stroke-dasharray="3.1 4.09" fill="none"/>
<polyline clip-path="url(#c4)" points="66.5,739.46 67.84,736.96 69.19,734.46 70.53,731.97 71.88,729.47 73.22,726.98 74.57,724.49 75.91,722.01 77.26,719.53 78.6,717.07 79.95,714.61 81.29,712.17 82.64,709.74 83.98,707.33 85.33,704.93 86.67,702.56 88.02,700.2 89.36,697.86 90.71,695.55 92.05,693.25 93.4,690.99 94.74,688.75 96.09,686.54 97.43,684.36 98.77,682.21 100.12,680.09 101.46,678.01 102.81,675.96 104.15,673.95 105.5,671.97 106.84,670.04 108.19,668.15 109.53,666.3 110.88,664.49 112.22,662.71 113.57,660.97 114.91,659.26 116.26,657.59 117.6,655.94 118.95,654.33 120.29,652.74 121.64,651.18 122.98,649.64 124.33,648.13 125.67,646.64 127.02,645.17 128.36,643.72 129.71,642.28 131.05,640.86 132.39,639.45 133.74,638.05 135.08,636.67 136.43,635.3 137.77,633.94 139.12,632.59 140.46,631.26 141.81,629.94 143.15,628.63 144.5,627.33 145.84,626.05 147.19,624.78 148.53,623.53 149.88,622.28 151.22,621.05 152.57,619.83 153.91,618.63 155.26,617.44 156.6,616.26 157.95,615.09 159.29,613.93 160.64,612.79 161.98,611.66 163.32,610.55 164.67,609.45 166.01,608.37 167.36,607.31 168.7,606.26 170.05,605.23 171.39,604.21 172.74,603.22 174.08,602.24 175.43,601.29 176.77,600.35 178.12,599.44 179.46,598.54 180.81,597.66 182.15,596.8 183.5,595.96 184.84,595.13 186.19,594.32 187.53,593.53 188.88,592.75 190.22,591.98 191.57,591.22 192.91,590.48 194.25,589.75 195.6,589.03 196.94,588.32 198.29,587.62 199.63,586.93 200.98,586.25 202.32,585.57 203.67,584.91 205.01,584.25 206.36,583.6 207.7,582.96 209.05,582.32 210.39,581.7 211.74,581.08 213.08,580.46 214.43,579.86 215.77,579.26 217.12,578.67 218.46,578.09 219.81,577.51 221.15,576.94 222.5,576.38 223.84,575.82 225.18,575.27 226.53,574.73 227.87,574.19 229.22,573.66 230.56,573.13 231.91,572.61 233.25,572.09 234.6,571.58 235.94,571.07 237.29,570.57 238.63,570.07 239.98,569.58 241.32,569.09 242.67,568.6 244.01,568.12 245.36,567.64 246.7,567.17 248.05,566.7 249.39,566.24 250.74,565.79 252.08,565.33 253.43,564.89 254.77,564.45 256.12,564.02 257.46,563.6 258.8,563.18 260.15,562.77 261.49,562.37 262.84,561.98 264.18,561.59 265.53,561.21 266.87,560.85 268.22,560.49 269.56,560.14 270.91,559.8 272.25,559.47 273.6,559.15 274.94,558.83 276.29,558.52 277.63,558.22 278.98,557.92 280.32,557.63 281.67,557.35 283.01,557.07 284.36,556.79 285.7,556.52 287.05,556.26 288.39,556 289.73,555.74 291.08,555.48 292.42,555.23 293.77,554.98 295.11,554.73 296.46,554.48 297.8,554.23 299.15,553.98 300.49,553.74 301.84,553.5 303.18,553.25 304.53,553.01 305.87,552.78 307.22,552.54 308.56,552.3 309.91,552.07 311.25,551.83 312.6,551.6 313.94,551.37 315.29,551.14 316.63,550.91 317.98,550.69 319.32,550.46 320.66,550.24 322.01,550.02 323.35,549.8 324.7,549.58 326.04,549.36 327.39,549.14 328.73,548.92 330.08,548.71 331.42,548.5 332.77,548.28 334.11,548.07 335.46,547.86 336.8,547.65 338.15,547.45 339.49,547.24 340.84,547.04 342.18,546.83 343.53,546.63 344.87,546.43 346.22,546.23 347.56,546.03 348.91,545.83 350.25,545.64 351.59,545.44 352.94,545.25 354.28,545.06 355.63,544.87 356.97,544.68 358.32,544.49 359.66,544.31 361.01,544.12 362.35,543.94 363.7,543.76 365.04,543.59 366.39,543.41 367.73,543.24 369.08,543.08 370.42,542.91 371.77,542.75 373.11,542.59 374.46,542.43 375.8,542.28 377.15,542.13 378.49,541.98 379.84,541.83 381.18,541.69 382.53,541.56 383.87,541.42 385.21,541.29 386.56,541.17 387.9,541.05 389.25,540.93 390.59,540.82 391.94,540.71 393.28,540.6 394.63,540.5 395.97,540.41 397.32,540.32 398.66,540.23 400.01,540.15 401.35,540.07 402.7,540 404.04,539.93 405.39,539.87 406.73,539.82 408.08,539.77 409.42,539.72 410.77,539.68 412.11,539.65 413.46,539.62 414.8,539.6" fill="none" stroke="#4a4a4a" stroke-width="1.55" stroke-linejoin="round"/>
<polyline clip-path="url(#c4)" points="66.5,716.81 67.84,714.83 69.19,712.88 70.53,710.95 71.88,709.04 73.22,707.15 74.57,705.29 75.91,703.45 77.26,701.62 78.6,699.82 79.95,698.03 81.29,696.27 82.64,694.52 83.98,692.79 85.33,691.07 86.67,689.38 88.02,687.7 89.36,686.03 90.71,684.38 92.05,682.75 93.4,681.13 94.74,679.52 96.09,677.93 97.43,676.35 98.77,674.78 100.12,673.22 101.46,671.68 102.81,670.15 104.15,668.62 105.5,667.11 106.84,665.61 108.19,664.12 109.53,662.63 110.88,661.16 112.22,659.7 113.57,658.24 114.91,656.8 116.26,655.36 117.6,653.94 118.95,652.53 120.29,651.12 121.64,649.73 122.98,648.34 124.33,646.96 125.67,645.6 127.02,644.24 128.36,642.89 129.71,641.55 131.05,640.21 132.39,638.89 133.74,637.57 135.08,636.26 136.43,634.95 137.77,633.65 139.12,632.36 140.46,631.08 141.81,629.8 143.15,628.52 144.5,627.26 145.84,626 147.19,624.75 148.53,623.51 149.88,622.27 151.22,621.05 152.57,619.83 153.91,618.63 155.26,617.44 156.6,616.26 157.95,615.09 159.29,613.93 160.64,612.79 161.98,611.66 163.32,610.55 164.67,609.45 166.01,608.36 167.36,607.29 168.7,606.23 170.05,605.17 171.39,604.14 172.74,603.11 174.08,602.09 175.43,601.08 176.77,600.08 178.12,599.09 179.46,598.1 180.81,597.13 182.15,596.16 183.5,595.2 184.84,594.25 186.19,593.3 187.53,592.37 188.88,591.44 190.22,590.51 191.57,589.6 192.91,588.69 194.25,587.79 195.6,586.9 196.94,586.02 198.29,585.15 199.63,584.28 200.98,583.43 202.32,582.58 203.67,581.74 205.01,580.91 206.36,580.09 207.7,579.28 209.05,578.48 210.39,577.69 211.74,576.9 213.08,576.13 214.43,575.36 215.77,574.6 217.12,573.85 218.46,573.11 219.81,572.38 221.15,571.66 222.5,570.94 223.84,570.24 225.18,569.54 226.53,568.85 227.87,568.16 229.22,567.49 230.56,566.82 231.91,566.17 233.25,565.52 234.6,564.87 235.94,564.24 237.29,563.61 238.63,563 239.98,562.38 241.32,561.78 242.67,561.19 244.01,560.6 245.36,560.02 246.7,559.45 248.05,558.88 249.39,558.32 250.74,557.77 252.08,557.23 253.43,556.69 254.77,556.16 256.12,555.64 257.46,555.12 258.8,554.61 260.15,554.11 261.49,553.61 262.84,553.12 264.18,552.64 265.53,552.16 266.87,551.69 268.22,551.23 269.56,550.77 270.91,550.32 272.25,549.87 273.6,549.43 274.94,549 276.29,548.57 277.63,548.14 278.98,547.73 280.32,547.31 281.67,546.91 283.01,546.51 284.36,546.11 285.7,545.72 287.05,545.33 288.39,544.95 289.73,544.57 291.08,544.2 292.42,543.84 293.77,543.47 295.11,543.12 296.46,542.76 297.8,542.42 299.15,542.07 300.49,541.73 301.84,541.4 303.18,541.07 304.53,540.74 305.87,540.41 307.22,540.1 308.56,539.78 309.91,539.47 311.25,539.16 312.6,538.86 313.94,538.55 315.29,538.26 316.63,537.96 317.98,537.67 319.32,537.38 320.66,537.1 322.01,536.82 323.35,536.54 324.7,536.26 326.04,535.99 327.39,535.72 328.73,535.45 330.08,535.19 331.42,534.92 332.77,534.66 334.11,534.41 335.46,534.15 336.8,533.9 338.15,533.65 339.49,533.4 340.84,533.15 342.18,532.9 343.53,532.66 344.87,532.42 346.22,532.18 347.56,531.94 348.91,531.7 350.25,531.47 351.59,531.23 352.94,531 354.28,530.77 355.63,530.53 356.97,530.3 358.32,530.08 359.66,529.85 361.01,529.62 362.35,529.39 363.7,529.17 365.04,528.94 366.39,528.71 367.73,528.49 369.08,528.26 370.42,528.04 371.77,527.82 373.11,527.59 374.46,527.37 375.8,527.14 377.15,526.92 378.49,526.69 379.84,526.47 381.18,526.24 382.53,526.01 383.87,525.79 385.21,525.56 386.56,525.33 387.9,525.1 389.25,524.87 390.59,524.64 391.94,524.41 393.28,524.18 394.63,523.94 395.97,523.71 397.32,523.47 398.66,523.23 400.01,522.99 401.35,522.75 402.7,522.51 404.04,522.26 405.39,522.02 406.73,521.77 408.08,521.52 409.42,521.26 410.77,521.01 412.11,520.75 413.46,520.49 414.8,520.23" fill="none" stroke="#ff0000" stroke-width="1.65" stroke-linejoin="round"/>
<polyline clip-path="url(#c4)" points="66.5,722.61 67.84,720.64 69.19,718.68 70.53,716.73 71.88,714.79 73.22,712.86 74.57,710.95 75.91,709.04 77.26,707.15 78.6,705.26 79.95,703.39 81.29,701.53 82.64,699.68 83.98,697.84 85.33,696.01 86.67,694.19 88.02,692.39 89.36,690.59 90.71,688.81 92.05,687.04 93.4,685.28 94.74,683.53 96.09,681.79 97.43,680.06 98.77,678.35 100.12,676.65 101.46,674.96 102.81,673.28 104.15,671.61 105.5,669.96 106.84,668.32 108.19,666.69 109.53,665.07 110.88,663.46 112.22,661.87 113.57,660.29 114.91,658.72 116.26,657.16 117.6,655.62 118.95,654.09 120.29,652.57 121.64,651.06 122.98,649.56 124.33,648.08 125.67,646.61 127.02,645.15 128.36,643.71 129.71,642.27 131.05,640.85 132.39,639.44 133.74,638.05 135.08,636.66 136.43,635.29 137.77,633.93 139.12,632.59 140.46,631.26 141.81,629.94 143.15,628.63 144.5,627.33 145.84,626.05 147.19,624.78 148.53,623.53 149.88,622.28 151.22,621.05 152.57,619.83 153.91,618.63 155.26,617.43 156.6,616.25 157.95,615.09 159.29,613.93 160.64,612.79 161.98,611.66 163.32,610.55 164.67,609.45 166.01,608.36 167.36,607.28 168.7,606.21 170.05,605.16 171.39,604.12 172.74,603.09 174.08,602.08 175.43,601.07 176.77,600.08 178.12,599.1 179.46,598.13 180.81,597.17 182.15,596.22 183.5,595.29 184.84,594.37 186.19,593.45 187.53,592.55 188.88,591.66 190.22,590.78 191.57,589.91 192.91,589.05 194.25,588.21 195.6,587.37 196.94,586.54 198.29,585.72 199.63,584.92 200.98,584.12 202.32,583.33 203.67,582.56 205.01,581.79 206.36,581.03 207.7,580.28 209.05,579.54 210.39,578.81 211.74,578.09 213.08,577.38 214.43,576.68 215.77,575.98 217.12,575.3 218.46,574.62 219.81,573.96 221.15,573.3 222.5,572.65 223.84,572.01 225.18,571.37 226.53,570.75 227.87,570.13 229.22,569.52 230.56,568.92 231.91,568.32 233.25,567.74 234.6,567.16 235.94,566.58 237.29,566.02 238.63,565.46 239.98,564.91 241.32,564.37 242.67,563.83 244.01,563.3 245.36,562.78 246.7,562.26 248.05,561.75 249.39,561.25 250.74,560.76 252.08,560.27 253.43,559.78 254.77,559.31 256.12,558.83 257.46,558.37 258.8,557.91 260.15,557.46 261.49,557.01 262.84,556.57 264.18,556.14 265.53,555.71 266.87,555.28 268.22,554.87 269.56,554.45 270.91,554.05 272.25,553.65 273.6,553.25 274.94,552.86 276.29,552.48 277.63,552.1 278.98,551.72 280.32,551.35 281.67,550.99 283.01,550.63 284.36,550.27 285.7,549.92 287.05,549.57 288.39,549.23 289.73,548.9 291.08,548.56 292.42,548.24 293.77,547.91 295.11,547.59 296.46,547.28 297.8,546.97 299.15,546.66 300.49,546.36 301.84,546.06 303.18,545.77 304.53,545.48 305.87,545.19 307.22,544.91 308.56,544.63 309.91,544.35 311.25,544.08 312.6,543.81 313.94,543.54 315.29,543.28 316.63,543.02 317.98,542.76 319.32,542.51 320.66,542.26 322.01,542.01 323.35,541.77 324.7,541.53 326.04,541.29 327.39,541.05 328.73,540.82 330.08,540.59 331.42,540.36 332.77,540.14 334.11,539.91 335.46,539.69 336.8,539.47 338.15,539.26 339.49,539.04 340.84,538.83 342.18,538.62 343.53,538.41 344.87,538.2 346.22,538 347.56,537.79 348.91,537.59 350.25,537.39 351.59,537.19 352.94,536.99 354.28,536.8 355.63,536.6 356.97,536.41 358.32,536.22 359.66,536.02 361.01,535.83 362.35,535.64 363.7,535.45 365.04,535.27 366.39,535.08 367.73,534.89 369.08,534.71 370.42,534.52 371.77,534.34 373.11,534.15 374.46,533.97 375.8,533.78 377.15,533.6 378.49,533.42 379.84,533.23 381.18,533.05 382.53,532.87 383.87,532.68 385.21,532.5 386.56,532.31 387.9,532.13 389.25,531.94 390.59,531.76 391.94,531.57 393.28,531.39 394.63,531.2 395.97,531.01 397.32,530.82 398.66,530.63 400.01,530.44 401.35,530.25 402.7,530.06 404.04,529.86 405.39,529.67 406.73,529.47 408.08,529.28 409.42,529.08 410.77,528.88 412.11,528.67 413.46,528.47 414.8,528.26" fill="none" stroke="#0000ff" stroke-width="1.65" stroke-linejoin="round"/>
<g fill="#a00000"><circle cx="79.9" cy="698.37" r="3.2"/><circle cx="106.69" cy="665.99" r="3.2"/><circle cx="213.86" cy="575.46" r="3.2"/><circle cx="240.65" cy="562.25" r="3.2"/><circle cx="267.44" cy="551.82" r="3.2"/><circle cx="294.23" cy="543.62" r="3.2"/><circle cx="321.03" cy="536.78" r="3.2"/><circle cx="347.82" cy="531.56" r="3.2"/><circle cx="374.61" cy="527.52" r="3.2"/><circle cx="401.4" cy="524.47" r="3.2"/></g>
<g fill="#0000a0"><circle cx="79.9" cy="704.12" r="3.2"/><circle cx="106.69" cy="668.7" r="3.2"/><circle cx="133.48" cy="638.12" r="3.2"/><circle cx="160.27" cy="613.03" r="3.2"/><circle cx="187.07" cy="592.56" r="3.2"/><circle cx="213.86" cy="576.97" r="3.2"/><circle cx="240.65" cy="564.72" r="3.2"/><circle cx="267.44" cy="555.48" r="3.2"/><circle cx="294.23" cy="548" r="3.2"/><circle cx="321.03" cy="541.87" r="3.2"/><circle cx="347.82" cy="537.46" r="3.2"/><circle cx="374.61" cy="533.91" r="3.2"/><circle cx="401.4" cy="530.89" r="3.2"/></g>
<polyline points="160.27,613.1 161.39,612.15 162.51,611.22 163.63,610.29 164.75,609.38 165.88,608.47 167,607.57 168.12,606.68 169.24,605.8 170.36,604.92 171.48,604.06 172.6,603.2" fill="none" stroke="#000" stroke-width="5.8" stroke-linejoin="round"/>
<rect x="66.5" y="501.6" width="348.3" height="214.9" fill="none" stroke="#000" stroke-width="2.0"/>
<rect x="84.2" y="501.6" width="139" height="30" fill="#fff" stroke="#000" stroke-width="1.8"/>
<text x="93.8" y="522.2" font-family="'Liberation Serif', serif" font-style="italic" font-size="23.5">N</text>
<path d="M115.05 529V512.6M110.05 517.9Q113.85 515.51 115.05 512.6Q116.25 515.51 120.05 517.9" fill="none" stroke="#000" stroke-width="1.2"/>
<rect x="121.9" y="513.43" width="11.09" height="2.7" fill="#000"/><rect x="121.9" y="517.99" width="11.09" height="2.63" fill="#000"/><text transform="translate(134.14 522.2) scale(1 1.03)" font-size="22.5" font-weight="bold" xml:space="preserve">3,</text>
<text x="159.9" y="522.2" font-family="'Liberation Serif', serif" font-style="italic" font-size="23.5">N</text>
<path d="M181.1 512.6V529M176.1 523.7Q179.9 526.09 181.1 529Q182.3 526.09 186.1 523.7" fill="none" stroke="#000" stroke-width="1.2"/>
<rect x="187.7" y="513.43" width="11.09" height="2.7" fill="#000"/><rect x="187.7" y="517.99" width="11.09" height="2.63" fill="#000"/><text transform="translate(199.94 522.2) scale(1 1.03)" font-size="22.5" font-weight="bold" xml:space="preserve">2</text>
<path d="M330.8 637.5H388.1" stroke="#4a4a4a" stroke-width="1.55"/>
<text transform="translate(318.1 644.3) scale(1 1.03)" text-anchor="end" font-size="20.0">Jastrow</text>
<path d="M330.8 665.65H388.1" stroke="#ff0000" stroke-width="1.65"/>
<rect x="279.46" y="664.97" width="10" height="1.48" fill="#000"/><rect x="279.46" y="668.49" width="10" height="1.48" fill="#000"/><text transform="translate(290.7 672.45) scale(1 1.03)" font-size="20.0" xml:space="preserve"> 30</text>
<path d="M271.15 662.75A4.85 5.75 0 1 0 271.55 669.65M271.25 661V663.9" fill="none" stroke="#333" stroke-width="1.05"/>
<path d="M330.8 693.8H388.1" stroke="#0000ff" stroke-width="1.65"/>
<rect x="279.46" y="693.12" width="10" height="1.48" fill="#000"/><rect x="279.46" y="696.64" width="10" height="1.48" fill="#000"/><text transform="translate(290.7 700.6) scale(1 1.03)" font-size="20.0" xml:space="preserve"> 50</text>
<path d="M271.15 690.9A4.85 5.75 0 1 0 271.55 697.8M271.25 689.15V692.05" fill="none" stroke="#333" stroke-width="1.05"/>
<text transform="translate(96.02 739.9) scale(1 1.03)" font-size="24.0" xml:space="preserve">-2</text>
<text transform="translate(156.9 739.9) scale(1 1.03)" font-size="24.0" xml:space="preserve">0</text>
<text transform="translate(210.49 739.9) scale(1 1.03)" font-size="24.0" xml:space="preserve">2</text>
<text transform="translate(264.07 739.9) scale(1 1.03)" font-size="24.0" xml:space="preserve">4</text>
<text transform="translate(317.65 739.9) scale(1 1.03)" font-size="24.0" xml:space="preserve">6</text>
<text transform="translate(371.24 739.9) scale(1 1.03)" font-size="24.0" xml:space="preserve">8</text>
<text transform="translate(45.56 724.3) scale(1 1.03)" font-size="24.0" xml:space="preserve">0</text>
<text transform="translate(45.56 676.54) scale(1 1.03)" font-size="24.0" xml:space="preserve">3</text>
<text transform="translate(45.56 628.79) scale(1 1.03)" font-size="24.0" xml:space="preserve">6</text>
<text transform="translate(45.56 581.03) scale(1 1.03)" font-size="24.0" xml:space="preserve">9</text>
<path d="M41.06 533.28L38.98 533.28L38.98 519.97Q38.22 520.69 37 521.41Q35.77 522.13 34.8 522.49L34.8 520.47Q36.55 519.65 37.86 518.47Q39.17 517.3 39.72 516.2L41.06 516.2Z" fill="#000"/><text transform="translate(45.56 533.28) scale(1 1.03)" font-size="24.0" xml:space="preserve">2</text>
<text transform="translate(29.6 608.45) rotate(-90) scale(0.93 1)" text-anchor="middle" font-weight="bold" font-size="27.6">Energy</text>
<text transform="translate(230.05 766.3) scale(1 1.03)" text-anchor="middle" font-weight="bold" font-size="26.0" textLength="131" lengthAdjust="spacingAndGlyphs">Interaction</text>
<text x="304.25" y="766.1" font-family="'Liberation Serif', serif" font-style="italic" font-size="28">g</text>
</g>
<g>
<clipPath id="c5"><rect x="456.8" y="501.6" width="348.4" height="214.9"/></clipPath>
<path d="M470.2 716.5v-4.5M497 716.5v-9M523.8 716.5v-4.5M550.6 716.5v-9M577.4 716.5v-4.5M604.2 716.5v-9M631 716.5v-4.5M657.8 716.5v-9M684.6 716.5v-4.5M711.4 716.5v-9M738.2 716.5v-4.5M765 716.5v-9M791.8 716.5v-4.5M456.8 716.5h9M456.8 685.8h4.5M456.8 655.1h9M456.8 624.4h4.5M456.8 593.7h9M456.8 563h4.5M456.8 532.3h9M456.8 501.6h4.5" stroke="#222" stroke-width="1.35" fill="none"/>
<path d="M457 522.12H805.2" stroke="#555" stroke-width="1.5" stroke-dasharray="3.1 4.09" fill="none"/>
<polyline clip-path="url(#c5)" points="456.8,710.23 458.15,708.09 459.49,705.98 460.84,703.87 462.18,701.79 463.53,699.73 464.87,697.69 466.22,695.66 467.56,693.66 468.91,691.67 470.25,689.7 471.6,687.75 472.94,685.82 474.29,683.91 475.63,682.01 476.98,680.14 478.32,678.28 479.67,676.44 481.01,674.62 482.36,672.82 483.7,671.04 485.05,669.27 486.39,667.53 487.74,665.8 489.08,664.09 490.43,662.39 491.77,660.72 493.12,659.06 494.46,657.42 495.81,655.79 497.16,654.18 498.5,652.59 499.85,651.01 501.19,649.45 502.54,647.9 503.88,646.37 505.23,644.85 506.57,643.34 507.92,641.85 509.26,640.38 510.61,638.91 511.95,637.46 513.3,636.03 514.64,634.61 515.99,633.2 517.33,631.81 518.68,630.43 520.02,629.07 521.37,627.73 522.71,626.4 524.06,625.1 525.4,623.81 526.75,622.55 528.09,621.31 529.44,620.09 530.78,618.9 532.13,617.73 533.47,616.58 534.82,615.46 536.17,614.36 537.51,613.29 538.86,612.25 540.2,611.22 541.55,610.22 542.89,609.23 544.24,608.27 545.58,607.32 546.93,606.39 548.27,605.48 549.62,604.57 550.96,603.68 552.31,602.8 553.65,601.93 555,601.07 556.34,600.22 557.69,599.37 559.03,598.53 560.38,597.7 561.72,596.88 563.07,596.06 564.41,595.25 565.76,594.45 567.1,593.66 568.45,592.87 569.79,592.1 571.14,591.33 572.48,590.57 573.83,589.83 575.18,589.09 576.52,588.37 577.87,587.65 579.21,586.95 580.56,586.26 581.9,585.57 583.25,584.9 584.59,584.23 585.94,583.58 587.28,582.93 588.63,582.3 589.97,581.67 591.32,581.05 592.66,580.44 594.01,579.84 595.35,579.24 596.7,578.65 598.04,578.07 599.39,577.5 600.73,576.93 602.08,576.37 603.42,575.82 604.77,575.27 606.11,574.73 607.46,574.19 608.8,573.66 610.15,573.14 611.49,572.63 612.84,572.12 614.19,571.61 615.53,571.11 616.88,570.62 618.22,570.14 619.57,569.66 620.91,569.18 622.26,568.72 623.6,568.26 624.95,567.8 626.29,567.35 627.64,566.91 628.98,566.48 630.33,566.05 631.67,565.62 633.02,565.2 634.36,564.79 635.71,564.39 637.05,563.99 638.4,563.59 639.74,563.2 641.09,562.82 642.43,562.44 643.78,562.07 645.12,561.7 646.47,561.34 647.81,560.99 649.16,560.64 650.51,560.29 651.85,559.95 653.2,559.62 654.54,559.29 655.89,558.96 657.23,558.64 658.58,558.33 659.92,558.02 661.27,557.71 662.61,557.41 663.96,557.12 665.3,556.83 666.65,556.54 667.99,556.26 669.34,555.98 670.68,555.71 672.03,555.44 673.37,555.18 674.72,554.92 676.06,554.66 677.41,554.41 678.75,554.16 680.1,553.91 681.44,553.67 682.79,553.44 684.13,553.21 685.48,552.98 686.82,552.75 688.17,552.53 689.52,552.31 690.86,552.1 692.21,551.89 693.55,551.68 694.9,551.47 696.24,551.27 697.59,551.07 698.93,550.88 700.28,550.69 701.62,550.5 702.97,550.31 704.31,550.13 705.66,549.95 707,549.77 708.35,549.6 709.69,549.43 711.04,549.26 712.38,549.09 713.73,548.93 715.07,548.77 716.42,548.61 717.76,548.45 719.11,548.29 720.45,548.14 721.8,547.99 723.14,547.84 724.49,547.7 725.83,547.55 727.18,547.41 728.53,547.27 729.87,547.13 731.22,546.99 732.56,546.86 733.91,546.72 735.25,546.59 736.6,546.46 737.94,546.33 739.29,546.2 740.63,546.08 741.98,545.95 743.32,545.83 744.67,545.71 746.01,545.58 747.36,545.46 748.7,545.34 750.05,545.22 751.39,545.1 752.74,544.99 754.08,544.87 755.43,544.75 756.77,544.64 758.12,544.52 759.46,544.41 760.81,544.3 762.15,544.18 763.5,544.07 764.84,543.96 766.19,543.84 767.54,543.73 768.88,543.62 770.23,543.51 771.57,543.39 772.92,543.28 774.26,543.17 775.61,543.05 776.95,542.94 778.3,542.83 779.64,542.71 780.99,542.6 782.33,542.48 783.68,542.37 785.02,542.25 786.37,542.13 787.71,542.02 789.06,541.9 790.4,541.78 791.75,541.66 793.09,541.54 794.44,541.41 795.78,541.29 797.13,541.17 798.47,541.04 799.82,540.91 801.16,540.79 802.51,540.66 803.85,540.52 805.2,540.39" fill="none" stroke="#4a4a4a" stroke-width="1.55" stroke-linejoin="round"/>
<polyline clip-path="url(#c5)" points="456.8,679.06 458.15,677.82 459.49,676.57 460.84,675.34 462.18,674.1 463.53,672.87 464.87,671.65 466.22,670.43 467.56,669.21 468.91,668 470.25,666.79 471.6,665.59 472.94,664.39 474.29,663.19 475.63,662 476.98,660.81 478.32,659.63 479.67,658.45 481.01,657.28 482.36,656.11 483.7,654.95 485.05,653.79 486.39,652.64 487.74,651.49 489.08,650.34 490.43,649.2 491.77,648.07 493.12,646.94 494.46,645.82 495.81,644.7 497.16,643.58 498.5,642.48 499.85,641.37 501.19,640.28 502.54,639.19 503.88,638.1 505.23,637.02 506.57,635.95 507.92,634.88 509.26,633.82 510.61,632.76 511.95,631.71 513.3,630.67 514.64,629.63 515.99,628.6 517.33,627.58 518.68,626.56 520.02,625.54 521.37,624.53 522.71,623.53 524.06,622.53 525.4,621.54 526.75,620.56 528.09,619.57 529.44,618.6 530.78,617.63 532.13,616.66 533.47,615.7 534.82,614.74 536.17,613.79 537.51,612.84 538.86,611.9 540.2,610.97 541.55,610.04 542.89,609.11 544.24,608.19 545.58,607.28 546.93,606.37 548.27,605.47 549.62,604.57 550.96,603.68 552.31,602.8 553.65,601.92 555,601.05 556.34,600.19 557.69,599.33 559.03,598.47 560.38,597.63 561.72,596.78 563.07,595.95 564.41,595.12 565.76,594.29 567.1,593.47 568.45,592.65 569.79,591.84 571.14,591.04 572.48,590.24 573.83,589.45 575.18,588.66 576.52,587.88 577.87,587.1 579.21,586.34 580.56,585.57 581.9,584.82 583.25,584.07 584.59,583.32 585.94,582.59 587.28,581.86 588.63,581.13 589.97,580.42 591.32,579.71 592.66,579.01 594.01,578.31 595.35,577.62 596.7,576.94 598.04,576.26 599.39,575.59 600.73,574.93 602.08,574.28 603.42,573.63 604.77,572.98 606.11,572.35 607.46,571.72 608.8,571.09 610.15,570.47 611.49,569.86 612.84,569.26 614.19,568.66 615.53,568.06 616.88,567.48 618.22,566.89 619.57,566.32 620.91,565.75 622.26,565.18 623.6,564.63 624.95,564.07 626.29,563.53 627.64,562.99 628.98,562.45 630.33,561.93 631.67,561.4 633.02,560.89 634.36,560.37 635.71,559.87 637.05,559.37 638.4,558.88 639.74,558.39 641.09,557.9 642.43,557.43 643.78,556.95 645.12,556.49 646.47,556.03 647.81,555.57 649.16,555.12 650.51,554.67 651.85,554.23 653.2,553.8 654.54,553.37 655.89,552.94 657.23,552.52 658.58,552.11 659.92,551.7 661.27,551.29 662.61,550.89 663.96,550.5 665.3,550.11 666.65,549.72 667.99,549.34 669.34,548.96 670.68,548.59 672.03,548.22 673.37,547.86 674.72,547.5 676.06,547.15 677.41,546.8 678.75,546.45 680.1,546.11 681.44,545.77 682.79,545.44 684.13,545.11 685.48,544.78 686.82,544.46 688.17,544.15 689.52,543.83 690.86,543.52 692.21,543.22 693.55,542.92 694.9,542.62 696.24,542.33 697.59,542.04 698.93,541.75 700.28,541.47 701.62,541.19 702.97,540.91 704.31,540.64 705.66,540.37 707,540.11 708.35,539.84 709.69,539.58 711.04,539.33 712.38,539.08 713.73,538.83 715.07,538.58 716.42,538.34 717.76,538.1 719.11,537.86 720.45,537.63 721.8,537.39 723.14,537.17 724.49,536.94 725.83,536.72 727.18,536.5 728.53,536.28 729.87,536.07 731.22,535.85 732.56,535.64 733.91,535.44 735.25,535.23 736.6,535.03 737.94,534.83 739.29,534.63 740.63,534.44 741.98,534.24 743.32,534.05 744.67,533.86 746.01,533.68 747.36,533.49 748.7,533.31 750.05,533.13 751.39,532.95 752.74,532.77 754.08,532.6 755.43,532.43 756.77,532.25 758.12,532.08 759.46,531.92 760.81,531.75 762.15,531.58 763.5,531.42 764.84,531.26 766.19,531.1 767.54,530.94 768.88,530.78 770.23,530.63 771.57,530.47 772.92,530.32 774.26,530.16 775.61,530.01 776.95,529.86 778.3,529.71 779.64,529.56 780.99,529.42 782.33,529.27 783.68,529.12 785.02,528.98 786.37,528.83 787.71,528.69 789.06,528.55 790.4,528.41 791.75,528.27 793.09,528.12 794.44,527.98 795.78,527.84 797.13,527.7 798.47,527.57 799.82,527.43 801.16,527.29 802.51,527.15 803.85,527.01 805.2,526.87" fill="none" stroke="#ff0000" stroke-width="1.65" stroke-linejoin="round"/>
<polyline clip-path="url(#c5)" points="456.8,684.51 458.15,683.1 459.49,681.69 460.84,680.3 462.18,678.91 463.53,677.53 464.87,676.15 466.22,674.78 467.56,673.42 468.91,672.07 470.25,670.72 471.6,669.38 472.94,668.05 474.29,666.73 475.63,665.41 476.98,664.1 478.32,662.8 479.67,661.5 481.01,660.22 482.36,658.94 483.7,657.66 485.05,656.4 486.39,655.14 487.74,653.89 489.08,652.65 490.43,651.41 491.77,650.18 493.12,648.96 494.46,647.75 495.81,646.54 497.16,645.34 498.5,644.15 499.85,642.97 501.19,641.8 502.54,640.63 503.88,639.47 505.23,638.31 506.57,637.17 507.92,636.03 509.26,634.9 510.61,633.78 511.95,632.66 513.3,631.55 514.64,630.45 515.99,629.36 517.33,628.28 518.68,627.2 520.02,626.13 521.37,625.07 522.71,624.02 524.06,622.97 525.4,621.93 526.75,620.9 528.09,619.88 529.44,618.86 530.78,617.86 532.13,616.86 533.47,615.86 534.82,614.88 536.17,613.9 537.51,612.94 538.86,611.98 540.2,611.02 541.55,610.08 542.89,609.14 544.24,608.21 545.58,607.29 546.93,606.38 548.27,605.47 549.62,604.57 550.96,603.68 552.31,602.8 553.65,601.93 555,601.06 556.34,600.2 557.69,599.35 559.03,598.51 560.38,597.67 561.72,596.85 563.07,596.03 564.41,595.21 565.76,594.41 567.1,593.61 568.45,592.82 569.79,592.04 571.14,591.27 572.48,590.5 573.83,589.74 575.18,588.99 576.52,588.24 577.87,587.5 579.21,586.77 580.56,586.05 581.9,585.33 583.25,584.62 584.59,583.92 585.94,583.22 587.28,582.54 588.63,581.86 589.97,581.18 591.32,580.51 592.66,579.85 594.01,579.2 595.35,578.55 596.7,577.91 598.04,577.28 599.39,576.65 600.73,576.04 602.08,575.42 603.42,574.82 604.77,574.22 606.11,573.62 607.46,573.04 608.8,572.46 610.15,571.88 611.49,571.32 612.84,570.75 614.19,570.2 615.53,569.65 616.88,569.11 618.22,568.57 619.57,568.05 620.91,567.52 622.26,567.01 623.6,566.49 624.95,565.99 626.29,565.49 627.64,565 628.98,564.51 630.33,564.03 631.67,563.56 633.02,563.09 634.36,562.62 635.71,562.17 637.05,561.71 638.4,561.27 639.74,560.83 641.09,560.39 642.43,559.96 643.78,559.54 645.12,559.12 646.47,558.71 647.81,558.3 649.16,557.9 650.51,557.5 651.85,557.11 653.2,556.72 654.54,556.34 655.89,555.96 657.23,555.59 658.58,555.22 659.92,554.86 661.27,554.5 662.61,554.15 663.96,553.8 665.3,553.46 666.65,553.12 667.99,552.78 669.34,552.45 670.68,552.13 672.03,551.8 673.37,551.49 674.72,551.17 676.06,550.86 677.41,550.56 678.75,550.26 680.1,549.96 681.44,549.67 682.79,549.38 684.13,549.09 685.48,548.81 686.82,548.53 688.17,548.26 689.52,547.99 690.86,547.72 692.21,547.46 693.55,547.2 694.9,546.94 696.24,546.69 697.59,546.44 698.93,546.19 700.28,545.95 701.62,545.71 702.97,545.47 704.31,545.24 705.66,545.01 707,544.78 708.35,544.55 709.69,544.33 711.04,544.11 712.38,543.89 713.73,543.68 715.07,543.47 716.42,543.26 717.76,543.05 719.11,542.85 720.45,542.65 721.8,542.45 723.14,542.25 724.49,542.05 725.83,541.86 727.18,541.67 728.53,541.48 729.87,541.3 731.22,541.11 732.56,540.93 733.91,540.75 735.25,540.57 736.6,540.39 737.94,540.22 739.29,540.04 740.63,539.87 741.98,539.7 743.32,539.53 744.67,539.36 746.01,539.19 747.36,539.03 748.7,538.86 750.05,538.7 751.39,538.54 752.74,538.38 754.08,538.22 755.43,538.06 756.77,537.9 758.12,537.75 759.46,537.59 760.81,537.44 762.15,537.28 763.5,537.13 764.84,536.97 766.19,536.82 767.54,536.67 768.88,536.52 770.23,536.37 771.57,536.22 772.92,536.07 774.26,535.92 775.61,535.77 776.95,535.62 778.3,535.47 779.64,535.32 780.99,535.17 782.33,535.02 783.68,534.87 785.02,534.72 786.37,534.57 787.71,534.42 789.06,534.26 790.4,534.11 791.75,533.96 793.09,533.81 794.44,533.66 795.78,533.5 797.13,533.35 798.47,533.19 799.82,533.04 801.16,532.88 802.51,532.72 803.85,532.56 805.2,532.4" fill="none" stroke="#0000ff" stroke-width="1.65" stroke-linejoin="round"/>
<g fill="#a00000"><circle cx="470.2" cy="667.22" r="3.2"/><circle cx="497" cy="643.84" r="3.2"/><circle cx="604.2" cy="572.62" r="3.2"/><circle cx="631" cy="561.26" r="3.2"/><circle cx="657.8" cy="552.46" r="3.2"/><circle cx="684.6" cy="545.4" r="3.2"/><circle cx="711.4" cy="539.46" r="3.2"/><circle cx="738.2" cy="534.76" r="3.2"/><circle cx="765" cy="531.17" r="3.2"/><circle cx="791.8" cy="528.31" r="3.2"/></g>
<g fill="#0000a0"><circle cx="470.2" cy="671.17" r="3.2"/><circle cx="497" cy="646.01" r="3.2"/><circle cx="523.8" cy="623.17" r="3.2"/><circle cx="550.6" cy="603.93" r="3.2"/><circle cx="577.4" cy="587.33" r="3.2"/><circle cx="604.2" cy="573.95" r="3.2"/><circle cx="631" cy="563.82" r="3.2"/><circle cx="657.8" cy="555.73" r="3.2"/><circle cx="684.6" cy="549.53" r="3.2"/><circle cx="711.4" cy="544.17" r="3.2"/><circle cx="738.2" cy="539.98" r="3.2"/><circle cx="765" cy="536.6" r="3.2"/><circle cx="791.8" cy="533.84" r="3.2"/></g>
<polyline points="550.6,603.92 551.72,603.18 552.84,602.45 553.96,601.73 555.08,601.01 556.2,600.29 557.32,599.58 558.45,598.88 559.57,598.18 560.69,597.48 561.81,596.79 562.93,596.11" fill="none" stroke="#000" stroke-width="5.8" stroke-linejoin="round"/>
<rect x="456.8" y="501.6" width="348.4" height="214.9" fill="none" stroke="#000" stroke-width="2.0"/>
<rect x="474.5" y="501.6" width="139" height="30" fill="#fff" stroke="#000" stroke-width="1.8"/>
<text x="484.1" y="522.2" font-family="'Liberation Serif', serif" font-style="italic" font-size="23.5">N</text>
<path d="M505.35 529V512.6M500.35 517.9Q504.15 515.51 505.35 512.6Q506.55 515.51 510.35 517.9" fill="none" stroke="#000" stroke-width="1.2"/>
<rect x="512.2" y="513.43" width="11.09" height="2.7" fill="#000"/><rect x="512.2" y="517.99" width="11.09" height="2.63" fill="#000"/><text transform="translate(524.44 522.2) scale(1 1.03)" font-size="22.5" font-weight="bold" xml:space="preserve">4,</text>
<text x="550.2" y="522.2" font-family="'Liberation Serif', serif" font-style="italic" font-size="23.5">N</text>
<path d="M571.4 512.6V529M566.4 523.7Q570.2 526.09 571.4 529Q572.6 526.09 576.4 523.7" fill="none" stroke="#000" stroke-width="1.2"/>
<rect x="578" y="513.43" width="11.09" height="2.7" fill="#000"/><rect x="578" y="517.99" width="11.09" height="2.63" fill="#000"/><path d="M599.01 522.2L595.95 522.2L595.95 510.68Q594.28 512.25 592 513L592 510.23Q593.2 509.83 594.6 508.74Q596 507.65 596.53 506.19L599.01 506.19Z" fill="#000"/>
<path d="M721.1 637.5H778.4" stroke="#4a4a4a" stroke-width="1.55"/>
<text transform="translate(708.4 644.3) scale(1 1.03)" text-anchor="end" font-size="20.0">Jastrow</text>
<path d="M721.1 665.65H778.4" stroke="#ff0000" stroke-width="1.65"/>
<rect x="669.76" y="664.97" width="10" height="1.48" fill="#000"/><rect x="669.76" y="668.49" width="10" height="1.48" fill="#000"/><text transform="translate(681 672.45) scale(1 1.03)" font-size="20.0" xml:space="preserve"> 30</text>
<path d="M661.45 662.75A4.85 5.75 0 1 0 661.85 669.65M661.55 661V663.9" fill="none" stroke="#333" stroke-width="1.05"/>
<path d="M721.1 693.8H778.4" stroke="#0000ff" stroke-width="1.65"/>
<rect x="669.76" y="693.12" width="10" height="1.48" fill="#000"/><rect x="669.76" y="696.64" width="10" height="1.48" fill="#000"/><text transform="translate(681 700.6) scale(1 1.03)" font-size="20.0" xml:space="preserve"> 50</text>
<path d="M661.45 690.9A4.85 5.75 0 1 0 661.85 697.8M661.55 689.15V692.05" fill="none" stroke="#333" stroke-width="1.05"/>
<text transform="translate(486.33 739.9) scale(1 1.03)" font-size="24.0" xml:space="preserve">-2</text>
<text transform="translate(547.23 739.9) scale(1 1.03)" font-size="24.0" xml:space="preserve">0</text>
<text transform="translate(600.83 739.9) scale(1 1.03)" font-size="24.0" xml:space="preserve">2</text>
<text transform="translate(654.43 739.9) scale(1 1.03)" font-size="24.0" xml:space="preserve">4</text>
<text transform="translate(708.03 739.9) scale(1 1.03)" font-size="24.0" xml:space="preserve">6</text>
<text transform="translate(761.63 739.9) scale(1 1.03)" font-size="24.0" xml:space="preserve">8</text>
<text transform="translate(435.86 724.3) scale(1 1.03)" font-size="24.0" xml:space="preserve">3</text>
<text transform="translate(435.86 662.9) scale(1 1.03)" font-size="24.0" xml:space="preserve">6</text>
<text transform="translate(435.86 601.5) scale(1 1.03)" font-size="24.0" xml:space="preserve">9</text>
<path d="M431.36 540.1L429.28 540.1L429.28 526.79Q428.52 527.51 427.3 528.23Q426.07 528.95 425.1 529.31L425.1 527.29Q426.85 526.47 428.16 525.3Q429.47 524.12 430.02 523.02L431.36 523.02Z" fill="#000"/><text transform="translate(435.86 540.1) scale(1 1.03)" font-size="24.0" xml:space="preserve">2</text>
<text transform="translate(620.4 766.3) scale(1 1.03)" text-anchor="middle" font-weight="bold" font-size="26.0" textLength="131" lengthAdjust="spacingAndGlyphs">Interaction</text>
<text x="694.6" y="766.1" font-family="'Liberation Serif', serif" font-style="italic" font-size="28">g</text>
</g>
</svg>
</body></html>
